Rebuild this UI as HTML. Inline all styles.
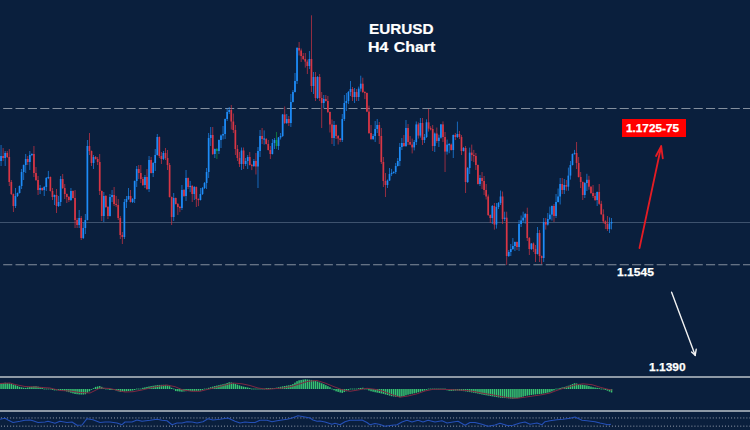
<!DOCTYPE html>
<html><head><meta charset="utf-8">
<style>
html,body{margin:0;padding:0;}
body{width:750px;height:430px;overflow:hidden;background:#0a1f3d;position:relative;font-family:"Liberation Sans",sans-serif;}
svg{position:absolute;left:0;top:0;}
.t{position:absolute;color:#fff;font-weight:bold;white-space:nowrap;line-height:1;}
</style></head><body>
<svg width="750" height="430" viewBox="0 0 750 430">

<g stroke="#848f9e" stroke-width="1" stroke-dasharray="9.1 3.23" fill="none">
<line x1="3.2" y1="108.5" x2="750" y2="108.5"/>
<line x1="3.2" y1="264.75" x2="750" y2="264.75"/>
</g>
<line x1="0" y1="222.5" x2="750" y2="222.5" stroke="#3e526e" stroke-width="1"/>
<g>
<rect x="0.60" y="145.0" width="0.9" height="21.0" fill="#1e8cf8" opacity="0.75"/>
<rect x="0.20" y="156.0" width="1.7" height="5.0" fill="#1e8cf8"/>
<rect x="2.66" y="148.0" width="0.9" height="13.0" fill="#d93645" opacity="0.75"/>
<rect x="2.26" y="156.0" width="1.7" height="2.0" fill="#d93645"/>
<rect x="4.71" y="151.0" width="0.9" height="15.0" fill="#1e8cf8" opacity="0.75"/>
<rect x="4.31" y="153.0" width="1.7" height="5.0" fill="#1e8cf8"/>
<rect x="6.77" y="151.0" width="0.9" height="7.0" fill="#d93645" opacity="0.75"/>
<rect x="6.37" y="153.0" width="1.7" height="4.0" fill="#d93645"/>
<rect x="8.82" y="149.0" width="0.9" height="37.0" fill="#d93645" opacity="0.75"/>
<rect x="8.42" y="157.0" width="1.7" height="25.0" fill="#d93645"/>
<rect x="10.88" y="180.0" width="0.9" height="15.0" fill="#d93645" opacity="0.75"/>
<rect x="10.48" y="182.0" width="1.7" height="12.0" fill="#d93645"/>
<rect x="12.93" y="193.5" width="0.9" height="18.5" fill="#d93645" opacity="0.75"/>
<rect x="12.53" y="194.0" width="1.7" height="12.0" fill="#d93645"/>
<rect x="14.99" y="188.0" width="0.9" height="20.0" fill="#1e8cf8" opacity="0.75"/>
<rect x="14.59" y="196.0" width="1.7" height="10.0" fill="#1e8cf8"/>
<rect x="17.04" y="192.5" width="0.9" height="4.5" fill="#1e8cf8" opacity="0.75"/>
<rect x="16.64" y="193.0" width="1.7" height="3.0" fill="#1e8cf8"/>
<rect x="19.10" y="185.5" width="0.9" height="8.0" fill="#1e8cf8" opacity="0.75"/>
<rect x="18.70" y="186.0" width="1.7" height="7.0" fill="#1e8cf8"/>
<rect x="21.16" y="169.0" width="0.9" height="20.0" fill="#1e8cf8" opacity="0.75"/>
<rect x="20.75" y="172.0" width="1.7" height="14.0" fill="#1e8cf8"/>
<rect x="23.21" y="164.5" width="0.9" height="15.5" fill="#1e8cf8" opacity="0.75"/>
<rect x="22.81" y="165.0" width="1.7" height="7.0" fill="#1e8cf8"/>
<rect x="25.27" y="154.0" width="0.9" height="19.0" fill="#1e8cf8" opacity="0.75"/>
<rect x="24.87" y="159.0" width="1.7" height="6.0" fill="#1e8cf8"/>
<rect x="27.32" y="156.0" width="0.9" height="9.0" fill="#d93645" opacity="0.75"/>
<rect x="26.92" y="159.0" width="1.7" height="3.0" fill="#d93645"/>
<rect x="29.38" y="151.0" width="0.9" height="19.0" fill="#1e8cf8" opacity="0.75"/>
<rect x="28.98" y="155.0" width="1.7" height="7.0" fill="#1e8cf8"/>
<rect x="31.43" y="153.4" width="0.9" height="2.7" fill="#1e8cf8" opacity="0.75"/>
<rect x="31.03" y="153.9" width="1.7" height="1.2" fill="#1e8cf8"/>
<rect x="33.49" y="146.0" width="0.9" height="31.0" fill="#d93645" opacity="0.75"/>
<rect x="33.09" y="154.0" width="1.7" height="19.0" fill="#d93645"/>
<rect x="35.54" y="167.0" width="0.9" height="14.0" fill="#d93645" opacity="0.75"/>
<rect x="35.14" y="173.0" width="1.7" height="7.0" fill="#d93645"/>
<rect x="37.60" y="176.0" width="0.9" height="19.0" fill="#d93645" opacity="0.75"/>
<rect x="37.20" y="180.0" width="1.7" height="10.0" fill="#d93645"/>
<rect x="39.65" y="185.0" width="0.9" height="9.0" fill="#1e8cf8" opacity="0.75"/>
<rect x="39.25" y="188.0" width="1.7" height="2.0" fill="#1e8cf8"/>
<rect x="41.71" y="187.5" width="0.9" height="3.5" fill="#d93645" opacity="0.75"/>
<rect x="41.31" y="188.0" width="1.7" height="2.0" fill="#d93645"/>
<rect x="43.77" y="186.0" width="0.9" height="10.0" fill="#1e8cf8" opacity="0.75"/>
<rect x="43.37" y="187.0" width="1.7" height="3.0" fill="#1e8cf8"/>
<rect x="45.82" y="177.0" width="0.9" height="14.0" fill="#1e8cf8" opacity="0.75"/>
<rect x="45.42" y="178.0" width="1.7" height="9.0" fill="#1e8cf8"/>
<rect x="47.88" y="170.9" width="0.9" height="8.2" fill="#1e8cf8" opacity="0.75"/>
<rect x="47.48" y="176.9" width="1.7" height="1.2" fill="#1e8cf8"/>
<rect x="49.93" y="176.5" width="0.9" height="15.0" fill="#d93645" opacity="0.75"/>
<rect x="49.53" y="177.0" width="1.7" height="14.0" fill="#d93645"/>
<rect x="51.99" y="188.0" width="0.9" height="12.0" fill="#d93645" opacity="0.75"/>
<rect x="51.59" y="191.0" width="1.7" height="6.0" fill="#d93645"/>
<rect x="54.04" y="194.5" width="0.9" height="10.5" fill="#1e8cf8" opacity="0.75"/>
<rect x="53.64" y="195.0" width="1.7" height="2.0" fill="#1e8cf8"/>
<rect x="56.10" y="189.0" width="0.9" height="24.0" fill="#d93645" opacity="0.75"/>
<rect x="55.70" y="195.0" width="1.7" height="11.0" fill="#d93645"/>
<rect x="58.15" y="196.0" width="0.9" height="11.0" fill="#1e8cf8" opacity="0.75"/>
<rect x="57.75" y="202.0" width="1.7" height="4.0" fill="#1e8cf8"/>
<rect x="60.21" y="176.0" width="0.9" height="30.0" fill="#1e8cf8" opacity="0.75"/>
<rect x="59.81" y="179.0" width="1.7" height="23.0" fill="#1e8cf8"/>
<rect x="62.26" y="174.0" width="0.9" height="15.0" fill="#d93645" opacity="0.75"/>
<rect x="61.86" y="179.0" width="1.7" height="9.0" fill="#d93645"/>
<rect x="64.32" y="184.0" width="0.9" height="15.0" fill="#d93645" opacity="0.75"/>
<rect x="63.92" y="188.0" width="1.7" height="6.0" fill="#d93645"/>
<rect x="66.38" y="193.5" width="0.9" height="9.5" fill="#d93645" opacity="0.75"/>
<rect x="65.98" y="194.0" width="1.7" height="3.0" fill="#d93645"/>
<rect x="68.43" y="196.0" width="0.9" height="6.0" fill="#d93645" opacity="0.75"/>
<rect x="68.03" y="197.0" width="1.7" height="3.0" fill="#d93645"/>
<rect x="70.49" y="188.0" width="0.9" height="13.0" fill="#1e8cf8" opacity="0.75"/>
<rect x="70.09" y="191.0" width="1.7" height="9.0" fill="#1e8cf8"/>
<rect x="72.54" y="190.5" width="0.9" height="8.0" fill="#d93645" opacity="0.75"/>
<rect x="72.14" y="191.0" width="1.7" height="7.0" fill="#d93645"/>
<rect x="74.60" y="190.0" width="0.9" height="38.0" fill="#d93645" opacity="0.75"/>
<rect x="74.20" y="198.0" width="1.7" height="22.0" fill="#d93645"/>
<rect x="76.65" y="218.0" width="0.9" height="10.0" fill="#d93645" opacity="0.75"/>
<rect x="76.25" y="220.0" width="1.7" height="5.0" fill="#d93645"/>
<rect x="78.71" y="210.0" width="0.9" height="18.0" fill="#1e8cf8" opacity="0.75"/>
<rect x="78.31" y="218.0" width="1.7" height="7.0" fill="#1e8cf8"/>
<rect x="80.76" y="216.0" width="0.9" height="24.0" fill="#d93645" opacity="0.75"/>
<rect x="80.36" y="218.0" width="1.7" height="20.0" fill="#d93645"/>
<rect x="82.82" y="222.0" width="0.9" height="17.0" fill="#1e8cf8" opacity="0.75"/>
<rect x="82.42" y="228.0" width="1.7" height="10.0" fill="#1e8cf8"/>
<rect x="84.88" y="214.0" width="0.9" height="20.0" fill="#1e8cf8" opacity="0.75"/>
<rect x="84.48" y="220.0" width="1.7" height="8.0" fill="#1e8cf8"/>
<rect x="86.93" y="140.0" width="0.9" height="80.5" fill="#1e8cf8" opacity="0.75"/>
<rect x="86.53" y="146.0" width="1.7" height="74.0" fill="#1e8cf8"/>
<rect x="88.99" y="133.0" width="0.9" height="22.0" fill="#d93645" opacity="0.75"/>
<rect x="88.59" y="146.0" width="1.7" height="5.0" fill="#d93645"/>
<rect x="91.04" y="150.5" width="0.9" height="15.5" fill="#d93645" opacity="0.75"/>
<rect x="90.64" y="151.0" width="1.7" height="12.0" fill="#d93645"/>
<rect x="93.10" y="155.0" width="0.9" height="14.0" fill="#1e8cf8" opacity="0.75"/>
<rect x="92.70" y="157.0" width="1.7" height="6.0" fill="#1e8cf8"/>
<rect x="95.15" y="156.0" width="0.9" height="3.5" fill="#d93645" opacity="0.75"/>
<rect x="94.75" y="157.0" width="1.7" height="2.0" fill="#d93645"/>
<rect x="97.21" y="157.0" width="0.9" height="8.0" fill="#d93645" opacity="0.75"/>
<rect x="96.81" y="159.0" width="1.7" height="3.0" fill="#d93645"/>
<rect x="99.26" y="154.0" width="0.9" height="41.0" fill="#d93645" opacity="0.75"/>
<rect x="98.86" y="162.0" width="1.7" height="29.0" fill="#d93645"/>
<rect x="101.32" y="190.5" width="0.9" height="30.5" fill="#d93645" opacity="0.75"/>
<rect x="100.92" y="191.0" width="1.7" height="25.0" fill="#d93645"/>
<rect x="103.37" y="192.0" width="0.9" height="30.0" fill="#1e8cf8" opacity="0.75"/>
<rect x="102.97" y="196.0" width="1.7" height="20.0" fill="#1e8cf8"/>
<rect x="105.43" y="195.0" width="0.9" height="13.0" fill="#d93645" opacity="0.75"/>
<rect x="105.03" y="196.0" width="1.7" height="11.0" fill="#d93645"/>
<rect x="107.49" y="206.0" width="0.9" height="13.0" fill="#d93645" opacity="0.75"/>
<rect x="107.09" y="207.0" width="1.7" height="9.0" fill="#d93645"/>
<rect x="109.54" y="194.0" width="0.9" height="22.5" fill="#1e8cf8" opacity="0.75"/>
<rect x="109.14" y="197.0" width="1.7" height="19.0" fill="#1e8cf8"/>
<rect x="111.60" y="190.0" width="0.9" height="12.0" fill="#1e8cf8" opacity="0.75"/>
<rect x="111.20" y="195.0" width="1.7" height="2.0" fill="#1e8cf8"/>
<rect x="113.65" y="187.0" width="0.9" height="19.0" fill="#d93645" opacity="0.75"/>
<rect x="113.25" y="195.0" width="1.7" height="9.0" fill="#d93645"/>
<rect x="115.71" y="195.9" width="0.9" height="11.2" fill="#d93645" opacity="0.75"/>
<rect x="115.31" y="203.9" width="1.7" height="1.2" fill="#d93645"/>
<rect x="117.76" y="199.0" width="0.9" height="21.0" fill="#d93645" opacity="0.75"/>
<rect x="117.36" y="205.0" width="1.7" height="13.0" fill="#d93645"/>
<rect x="119.82" y="216.0" width="0.9" height="23.0" fill="#d93645" opacity="0.75"/>
<rect x="119.42" y="218.0" width="1.7" height="17.0" fill="#d93645"/>
<rect x="121.87" y="232.0" width="0.9" height="12.0" fill="#d93645" opacity="0.75"/>
<rect x="121.47" y="235.0" width="1.7" height="2.0" fill="#d93645"/>
<rect x="123.93" y="199.0" width="0.9" height="40.0" fill="#1e8cf8" opacity="0.75"/>
<rect x="123.53" y="202.0" width="1.7" height="35.0" fill="#1e8cf8"/>
<rect x="125.99" y="196.0" width="0.9" height="12.0" fill="#1e8cf8" opacity="0.75"/>
<rect x="125.59" y="199.0" width="1.7" height="3.0" fill="#1e8cf8"/>
<rect x="128.04" y="188.0" width="0.9" height="12.0" fill="#1e8cf8" opacity="0.75"/>
<rect x="127.64" y="196.0" width="1.7" height="3.0" fill="#1e8cf8"/>
<rect x="130.10" y="190.0" width="0.9" height="12.5" fill="#d93645" opacity="0.75"/>
<rect x="129.70" y="196.0" width="1.7" height="6.0" fill="#d93645"/>
<rect x="132.15" y="198.0" width="0.9" height="5.0" fill="#1e8cf8" opacity="0.75"/>
<rect x="131.75" y="199.0" width="1.7" height="3.0" fill="#1e8cf8"/>
<rect x="134.21" y="180.5" width="0.9" height="22.5" fill="#1e8cf8" opacity="0.75"/>
<rect x="133.81" y="181.0" width="1.7" height="18.0" fill="#1e8cf8"/>
<rect x="136.26" y="166.0" width="0.9" height="21.0" fill="#1e8cf8" opacity="0.75"/>
<rect x="135.86" y="169.0" width="1.7" height="12.0" fill="#1e8cf8"/>
<rect x="138.32" y="165.0" width="0.9" height="14.0" fill="#d93645" opacity="0.75"/>
<rect x="137.92" y="169.0" width="1.7" height="4.0" fill="#d93645"/>
<rect x="140.37" y="165.0" width="0.9" height="18.0" fill="#d93645" opacity="0.75"/>
<rect x="139.97" y="173.0" width="1.7" height="6.0" fill="#d93645"/>
<rect x="142.43" y="177.0" width="0.9" height="9.0" fill="#d93645" opacity="0.75"/>
<rect x="142.03" y="179.0" width="1.7" height="6.0" fill="#d93645"/>
<rect x="144.49" y="175.0" width="0.9" height="13.0" fill="#1e8cf8" opacity="0.75"/>
<rect x="144.09" y="177.0" width="1.7" height="8.0" fill="#1e8cf8"/>
<rect x="146.54" y="169.0" width="0.9" height="21.0" fill="#d93645" opacity="0.75"/>
<rect x="146.14" y="177.0" width="1.7" height="12.0" fill="#d93645"/>
<rect x="148.60" y="156.0" width="0.9" height="36.0" fill="#1e8cf8" opacity="0.75"/>
<rect x="148.20" y="160.0" width="1.7" height="29.0" fill="#1e8cf8"/>
<rect x="150.65" y="157.0" width="0.9" height="16.5" fill="#d93645" opacity="0.75"/>
<rect x="150.25" y="160.0" width="1.7" height="13.0" fill="#d93645"/>
<rect x="152.71" y="162.0" width="0.9" height="15.0" fill="#1e8cf8" opacity="0.75"/>
<rect x="152.31" y="163.0" width="1.7" height="10.0" fill="#1e8cf8"/>
<rect x="154.76" y="149.0" width="0.9" height="22.0" fill="#1e8cf8" opacity="0.75"/>
<rect x="154.36" y="155.0" width="1.7" height="8.0" fill="#1e8cf8"/>
<rect x="156.82" y="134.0" width="0.9" height="21.5" fill="#1e8cf8" opacity="0.75"/>
<rect x="156.42" y="137.0" width="1.7" height="18.0" fill="#1e8cf8"/>
<rect x="158.87" y="136.5" width="0.9" height="21.5" fill="#d93645" opacity="0.75"/>
<rect x="158.47" y="137.0" width="1.7" height="19.0" fill="#d93645"/>
<rect x="160.93" y="152.0" width="0.9" height="12.0" fill="#d93645" opacity="0.75"/>
<rect x="160.53" y="156.0" width="1.7" height="3.0" fill="#d93645"/>
<rect x="162.98" y="151.0" width="0.9" height="9.0" fill="#1e8cf8" opacity="0.75"/>
<rect x="162.58" y="153.0" width="1.7" height="6.0" fill="#1e8cf8"/>
<rect x="165.04" y="148.0" width="0.9" height="12.0" fill="#d93645" opacity="0.75"/>
<rect x="164.64" y="153.0" width="1.7" height="5.0" fill="#d93645"/>
<rect x="167.10" y="150.0" width="0.9" height="20.0" fill="#d93645" opacity="0.75"/>
<rect x="166.70" y="158.0" width="1.7" height="7.0" fill="#d93645"/>
<rect x="169.15" y="163.0" width="0.9" height="34.5" fill="#d93645" opacity="0.75"/>
<rect x="168.75" y="165.0" width="1.7" height="32.0" fill="#d93645"/>
<rect x="171.21" y="196.5" width="0.9" height="28.5" fill="#d93645" opacity="0.75"/>
<rect x="170.81" y="197.0" width="1.7" height="20.0" fill="#d93645"/>
<rect x="173.26" y="193.0" width="0.9" height="28.0" fill="#1e8cf8" opacity="0.75"/>
<rect x="172.86" y="198.0" width="1.7" height="19.0" fill="#1e8cf8"/>
<rect x="175.32" y="197.5" width="0.9" height="7.0" fill="#d93645" opacity="0.75"/>
<rect x="174.92" y="198.0" width="1.7" height="6.0" fill="#d93645"/>
<rect x="177.37" y="203.0" width="0.9" height="12.0" fill="#d93645" opacity="0.75"/>
<rect x="176.97" y="204.0" width="1.7" height="3.0" fill="#d93645"/>
<rect x="179.43" y="205.9" width="0.9" height="6.2" fill="#d93645" opacity="0.75"/>
<rect x="179.03" y="206.9" width="1.7" height="1.2" fill="#d93645"/>
<rect x="181.48" y="185.0" width="0.9" height="25.0" fill="#1e8cf8" opacity="0.75"/>
<rect x="181.08" y="190.0" width="1.7" height="18.0" fill="#1e8cf8"/>
<rect x="183.54" y="189.0" width="0.9" height="8.0" fill="#d93645" opacity="0.75"/>
<rect x="183.14" y="190.0" width="1.7" height="6.0" fill="#d93645"/>
<rect x="185.59" y="170.0" width="0.9" height="31.0" fill="#1e8cf8" opacity="0.75"/>
<rect x="185.19" y="178.0" width="1.7" height="18.0" fill="#1e8cf8"/>
<rect x="187.65" y="177.5" width="0.9" height="11.5" fill="#d93645" opacity="0.75"/>
<rect x="187.25" y="178.0" width="1.7" height="9.0" fill="#d93645"/>
<rect x="189.71" y="180.9" width="0.9" height="11.2" fill="#1e8cf8" opacity="0.75"/>
<rect x="189.31" y="185.9" width="1.7" height="1.2" fill="#1e8cf8"/>
<rect x="191.76" y="185.0" width="0.9" height="17.0" fill="#d93645" opacity="0.75"/>
<rect x="191.36" y="186.0" width="1.7" height="8.0" fill="#d93645"/>
<rect x="193.82" y="186.0" width="0.9" height="14.0" fill="#1e8cf8" opacity="0.75"/>
<rect x="193.42" y="187.0" width="1.7" height="7.0" fill="#1e8cf8"/>
<rect x="195.87" y="186.5" width="0.9" height="20.5" fill="#d93645" opacity="0.75"/>
<rect x="195.47" y="187.0" width="1.7" height="12.0" fill="#d93645"/>
<rect x="197.93" y="198.4" width="0.9" height="7.7" fill="#d93645" opacity="0.75"/>
<rect x="197.53" y="198.9" width="1.7" height="1.2" fill="#d93645"/>
<rect x="199.98" y="188.0" width="0.9" height="12.5" fill="#1e8cf8" opacity="0.75"/>
<rect x="199.58" y="194.0" width="1.7" height="6.0" fill="#1e8cf8"/>
<rect x="202.04" y="187.0" width="0.9" height="8.0" fill="#1e8cf8" opacity="0.75"/>
<rect x="201.64" y="188.0" width="1.7" height="6.0" fill="#1e8cf8"/>
<rect x="204.09" y="182.0" width="0.9" height="7.0" fill="#1e8cf8" opacity="0.75"/>
<rect x="203.69" y="183.0" width="1.7" height="5.0" fill="#1e8cf8"/>
<rect x="206.15" y="168.0" width="0.9" height="21.0" fill="#1e8cf8" opacity="0.75"/>
<rect x="205.75" y="172.0" width="1.7" height="11.0" fill="#1e8cf8"/>
<rect x="208.21" y="133.0" width="0.9" height="45.0" fill="#1e8cf8" opacity="0.75"/>
<rect x="207.81" y="138.0" width="1.7" height="34.0" fill="#1e8cf8"/>
<rect x="210.26" y="127.0" width="0.9" height="19.0" fill="#1e8cf8" opacity="0.75"/>
<rect x="209.86" y="135.0" width="1.7" height="3.0" fill="#1e8cf8"/>
<rect x="212.32" y="127.0" width="0.9" height="28.0" fill="#d93645" opacity="0.75"/>
<rect x="211.92" y="135.0" width="1.7" height="19.0" fill="#d93645"/>
<rect x="214.37" y="148.5" width="0.9" height="9.5" fill="#1e8cf8" opacity="0.75"/>
<rect x="213.97" y="149.0" width="1.7" height="5.0" fill="#1e8cf8"/>
<rect x="216.43" y="148.0" width="0.9" height="11.0" fill="#139a3c" opacity="0.75"/>
<rect x="216.03" y="149.0" width="1.7" height="2.0" fill="#139a3c"/>
<rect x="218.48" y="139.5" width="0.9" height="14.5" fill="#1e8cf8" opacity="0.75"/>
<rect x="218.08" y="140.0" width="1.7" height="11.0" fill="#1e8cf8"/>
<rect x="220.54" y="134.5" width="0.9" height="13.5" fill="#1e8cf8" opacity="0.75"/>
<rect x="220.14" y="135.5" width="1.7" height="4.5" fill="#1e8cf8"/>
<rect x="222.59" y="126.0" width="0.9" height="13.5" fill="#1e8cf8" opacity="0.75"/>
<rect x="222.19" y="134.0" width="1.7" height="1.5" fill="#1e8cf8"/>
<rect x="224.65" y="118.5" width="0.9" height="20.5" fill="#1e8cf8" opacity="0.75"/>
<rect x="224.25" y="119.0" width="1.7" height="15.0" fill="#1e8cf8"/>
<rect x="226.71" y="108.0" width="0.9" height="13.0" fill="#1e8cf8" opacity="0.75"/>
<rect x="226.31" y="112.0" width="1.7" height="7.0" fill="#1e8cf8"/>
<rect x="228.76" y="107.0" width="0.9" height="7.0" fill="#1e8cf8" opacity="0.75"/>
<rect x="228.36" y="110.0" width="1.7" height="2.0" fill="#1e8cf8"/>
<rect x="230.82" y="105.0" width="0.9" height="24.5" fill="#d93645" opacity="0.75"/>
<rect x="230.42" y="110.0" width="1.7" height="11.5" fill="#d93645"/>
<rect x="232.87" y="113.5" width="0.9" height="19.5" fill="#d93645" opacity="0.75"/>
<rect x="232.47" y="121.5" width="1.7" height="8.5" fill="#d93645"/>
<rect x="234.93" y="125.0" width="0.9" height="30.0" fill="#d93645" opacity="0.75"/>
<rect x="234.53" y="130.0" width="1.7" height="19.0" fill="#d93645"/>
<rect x="236.98" y="145.0" width="0.9" height="16.0" fill="#d93645" opacity="0.75"/>
<rect x="236.58" y="149.0" width="1.7" height="9.0" fill="#d93645"/>
<rect x="239.04" y="152.0" width="0.9" height="15.0" fill="#d93645" opacity="0.75"/>
<rect x="238.64" y="158.0" width="1.7" height="6.0" fill="#d93645"/>
<rect x="241.09" y="147.5" width="0.9" height="22.5" fill="#1e8cf8" opacity="0.75"/>
<rect x="240.69" y="150.5" width="1.7" height="13.5" fill="#1e8cf8"/>
<rect x="243.15" y="147.5" width="0.9" height="21.5" fill="#d93645" opacity="0.75"/>
<rect x="242.75" y="150.5" width="1.7" height="13.5" fill="#d93645"/>
<rect x="245.20" y="158.0" width="0.9" height="8.0" fill="#1e8cf8" opacity="0.75"/>
<rect x="244.80" y="161.0" width="1.7" height="3.0" fill="#1e8cf8"/>
<rect x="247.26" y="155.0" width="0.9" height="14.0" fill="#1e8cf8" opacity="0.75"/>
<rect x="246.86" y="157.0" width="1.7" height="4.0" fill="#1e8cf8"/>
<rect x="249.32" y="152.0" width="0.9" height="13.5" fill="#d93645" opacity="0.75"/>
<rect x="248.92" y="157.0" width="1.7" height="8.0" fill="#d93645"/>
<rect x="251.37" y="163.9" width="0.9" height="6.2" fill="#d93645" opacity="0.75"/>
<rect x="250.97" y="164.9" width="1.7" height="1.2" fill="#d93645"/>
<rect x="253.43" y="159.0" width="0.9" height="8.0" fill="#1e8cf8" opacity="0.75"/>
<rect x="253.03" y="161.0" width="1.7" height="5.0" fill="#1e8cf8"/>
<rect x="255.48" y="153.0" width="0.9" height="21.5" fill="#d93645" opacity="0.75"/>
<rect x="255.08" y="161.0" width="1.7" height="5.5" fill="#d93645"/>
<rect x="257.54" y="147.0" width="0.9" height="41.0" fill="#1e8cf8" opacity="0.75"/>
<rect x="257.14" y="151.0" width="1.7" height="15.5" fill="#1e8cf8"/>
<rect x="259.59" y="130.0" width="0.9" height="27.0" fill="#1e8cf8" opacity="0.75"/>
<rect x="259.19" y="136.0" width="1.7" height="15.0" fill="#1e8cf8"/>
<rect x="261.65" y="128.0" width="0.9" height="16.0" fill="#d93645" opacity="0.75"/>
<rect x="261.25" y="136.0" width="1.7" height="3.0" fill="#d93645"/>
<rect x="263.70" y="130.4" width="0.9" height="14.2" fill="#1e8cf8" opacity="0.75"/>
<rect x="263.30" y="138.4" width="1.7" height="1.2" fill="#1e8cf8"/>
<rect x="265.76" y="138.0" width="0.9" height="6.5" fill="#d93645" opacity="0.75"/>
<rect x="265.36" y="139.0" width="1.7" height="5.0" fill="#d93645"/>
<rect x="267.81" y="140.0" width="0.9" height="10.5" fill="#d93645" opacity="0.75"/>
<rect x="267.41" y="144.0" width="1.7" height="6.0" fill="#d93645"/>
<rect x="269.87" y="146.0" width="0.9" height="13.0" fill="#d93645" opacity="0.75"/>
<rect x="269.47" y="150.0" width="1.7" height="4.0" fill="#d93645"/>
<rect x="271.93" y="139.0" width="0.9" height="15.5" fill="#1e8cf8" opacity="0.75"/>
<rect x="271.53" y="143.0" width="1.7" height="11.0" fill="#1e8cf8"/>
<rect x="273.98" y="138.0" width="0.9" height="11.0" fill="#1e8cf8" opacity="0.75"/>
<rect x="273.58" y="140.0" width="1.7" height="3.0" fill="#1e8cf8"/>
<rect x="276.04" y="132.0" width="0.9" height="17.0" fill="#139a3c" opacity="0.75"/>
<rect x="275.64" y="140.0" width="1.7" height="6.0" fill="#139a3c"/>
<rect x="278.09" y="137.0" width="0.9" height="13.0" fill="#1e8cf8" opacity="0.75"/>
<rect x="277.69" y="137.5" width="1.7" height="8.5" fill="#1e8cf8"/>
<rect x="280.15" y="133.0" width="0.9" height="6.5" fill="#1e8cf8" opacity="0.75"/>
<rect x="279.75" y="136.0" width="1.7" height="1.5" fill="#1e8cf8"/>
<rect x="282.20" y="114.0" width="0.9" height="23.0" fill="#1e8cf8" opacity="0.75"/>
<rect x="281.80" y="114.5" width="1.7" height="21.5" fill="#1e8cf8"/>
<rect x="284.26" y="106.5" width="0.9" height="17.5" fill="#d93645" opacity="0.75"/>
<rect x="283.86" y="114.5" width="1.7" height="8.5" fill="#d93645"/>
<rect x="286.31" y="114.0" width="0.9" height="10.0" fill="#1e8cf8" opacity="0.75"/>
<rect x="285.91" y="119.0" width="1.7" height="4.0" fill="#1e8cf8"/>
<rect x="288.37" y="116.0" width="0.9" height="10.0" fill="#d93645" opacity="0.75"/>
<rect x="287.97" y="119.0" width="1.7" height="4.0" fill="#d93645"/>
<rect x="290.43" y="94.0" width="0.9" height="33.0" fill="#1e8cf8" opacity="0.75"/>
<rect x="290.03" y="102.0" width="1.7" height="21.0" fill="#1e8cf8"/>
<rect x="292.48" y="90.0" width="0.9" height="12.5" fill="#1e8cf8" opacity="0.75"/>
<rect x="292.08" y="92.0" width="1.7" height="10.0" fill="#1e8cf8"/>
<rect x="294.54" y="73.0" width="0.9" height="19.5" fill="#1e8cf8" opacity="0.75"/>
<rect x="294.14" y="81.0" width="1.7" height="11.0" fill="#1e8cf8"/>
<rect x="296.59" y="47.0" width="0.9" height="37.0" fill="#1e8cf8" opacity="0.75"/>
<rect x="296.19" y="48.0" width="1.7" height="33.0" fill="#1e8cf8"/>
<rect x="298.65" y="42.0" width="0.9" height="13.5" fill="#d93645" opacity="0.75"/>
<rect x="298.25" y="48.0" width="1.7" height="2.5" fill="#d93645"/>
<rect x="300.70" y="48.5" width="0.9" height="13.5" fill="#d93645" opacity="0.75"/>
<rect x="300.30" y="50.5" width="1.7" height="5.5" fill="#d93645"/>
<rect x="302.76" y="53.0" width="0.9" height="7.0" fill="#d93645" opacity="0.75"/>
<rect x="302.36" y="56.0" width="1.7" height="3.0" fill="#d93645"/>
<rect x="304.81" y="53.0" width="0.9" height="14.6" fill="#d93645" opacity="0.75"/>
<rect x="304.41" y="59.0" width="1.7" height="2.6" fill="#d93645"/>
<rect x="306.87" y="59.6" width="0.9" height="14.4" fill="#d93645" opacity="0.75"/>
<rect x="306.47" y="61.6" width="1.7" height="4.4" fill="#d93645"/>
<rect x="308.93" y="51.0" width="0.9" height="18.0" fill="#1e8cf8" opacity="0.75"/>
<rect x="308.52" y="59.0" width="1.7" height="7.0" fill="#1e8cf8"/>
<rect x="310.98" y="15.3" width="0.9" height="76.7" fill="#d93645" opacity="0.75"/>
<rect x="310.58" y="59.0" width="1.7" height="27.0" fill="#d93645"/>
<rect x="313.04" y="72.0" width="0.9" height="22.0" fill="#1e8cf8" opacity="0.75"/>
<rect x="312.64" y="77.0" width="1.7" height="9.0" fill="#1e8cf8"/>
<rect x="315.09" y="72.0" width="0.9" height="29.0" fill="#d93645" opacity="0.75"/>
<rect x="314.69" y="77.0" width="1.7" height="21.0" fill="#d93645"/>
<rect x="317.15" y="76.0" width="0.9" height="23.0" fill="#1e8cf8" opacity="0.75"/>
<rect x="316.75" y="77.0" width="1.7" height="21.0" fill="#1e8cf8"/>
<rect x="319.20" y="74.0" width="0.9" height="27.0" fill="#d93645" opacity="0.75"/>
<rect x="318.80" y="77.0" width="1.7" height="21.0" fill="#d93645"/>
<rect x="321.26" y="92.0" width="0.9" height="36.0" fill="#d93645" opacity="0.75"/>
<rect x="320.86" y="98.0" width="1.7" height="5.0" fill="#d93645"/>
<rect x="323.31" y="95.0" width="0.9" height="13.0" fill="#1e8cf8" opacity="0.75"/>
<rect x="322.91" y="99.0" width="1.7" height="4.0" fill="#1e8cf8"/>
<rect x="325.37" y="95.0" width="0.9" height="6.5" fill="#d93645" opacity="0.75"/>
<rect x="324.97" y="99.0" width="1.7" height="2.0" fill="#d93645"/>
<rect x="327.42" y="96.0" width="0.9" height="17.0" fill="#d93645" opacity="0.75"/>
<rect x="327.02" y="101.0" width="1.7" height="11.0" fill="#d93645"/>
<rect x="329.48" y="111.5" width="0.9" height="21.0" fill="#d93645" opacity="0.75"/>
<rect x="329.08" y="112.0" width="1.7" height="12.5" fill="#d93645"/>
<rect x="331.54" y="119.5" width="0.9" height="24.5" fill="#d93645" opacity="0.75"/>
<rect x="331.14" y="124.5" width="1.7" height="13.5" fill="#d93645"/>
<rect x="333.59" y="121.0" width="0.9" height="25.0" fill="#1e8cf8" opacity="0.75"/>
<rect x="333.19" y="125.0" width="1.7" height="13.0" fill="#1e8cf8"/>
<rect x="335.65" y="124.5" width="0.9" height="14.5" fill="#d93645" opacity="0.75"/>
<rect x="335.25" y="125.0" width="1.7" height="11.0" fill="#d93645"/>
<rect x="337.70" y="135.0" width="0.9" height="9.5" fill="#d93645" opacity="0.75"/>
<rect x="337.30" y="136.0" width="1.7" height="2.5" fill="#d93645"/>
<rect x="339.76" y="138.0" width="0.9" height="4.0" fill="#d93645" opacity="0.75"/>
<rect x="339.36" y="138.5" width="1.7" height="1.5" fill="#d93645"/>
<rect x="341.81" y="114.0" width="0.9" height="28.0" fill="#1e8cf8" opacity="0.75"/>
<rect x="341.41" y="119.0" width="1.7" height="21.0" fill="#1e8cf8"/>
<rect x="343.87" y="95.0" width="0.9" height="26.0" fill="#1e8cf8" opacity="0.75"/>
<rect x="343.47" y="103.0" width="1.7" height="16.0" fill="#1e8cf8"/>
<rect x="345.92" y="93.0" width="0.9" height="18.0" fill="#1e8cf8" opacity="0.75"/>
<rect x="345.52" y="101.0" width="1.7" height="2.0" fill="#1e8cf8"/>
<rect x="347.98" y="91.0" width="0.9" height="13.0" fill="#1e8cf8" opacity="0.75"/>
<rect x="347.58" y="92.0" width="1.7" height="9.0" fill="#1e8cf8"/>
<rect x="350.04" y="81.0" width="0.9" height="15.0" fill="#1e8cf8" opacity="0.75"/>
<rect x="349.63" y="89.0" width="1.7" height="3.0" fill="#1e8cf8"/>
<rect x="352.09" y="87.0" width="0.9" height="14.0" fill="#d93645" opacity="0.75"/>
<rect x="351.69" y="89.0" width="1.7" height="8.0" fill="#d93645"/>
<rect x="354.15" y="88.0" width="0.9" height="15.0" fill="#1e8cf8" opacity="0.75"/>
<rect x="353.75" y="92.0" width="1.7" height="5.0" fill="#1e8cf8"/>
<rect x="356.20" y="89.0" width="0.9" height="12.0" fill="#d93645" opacity="0.75"/>
<rect x="355.80" y="92.0" width="1.7" height="5.0" fill="#d93645"/>
<rect x="358.26" y="86.6" width="0.9" height="14.4" fill="#1e8cf8" opacity="0.75"/>
<rect x="357.86" y="88.6" width="1.7" height="8.4" fill="#1e8cf8"/>
<rect x="360.31" y="75.7" width="0.9" height="15.9" fill="#1e8cf8" opacity="0.75"/>
<rect x="359.91" y="83.7" width="1.7" height="4.9" fill="#1e8cf8"/>
<rect x="362.37" y="77.7" width="0.9" height="15.3" fill="#d93645" opacity="0.75"/>
<rect x="361.97" y="83.7" width="1.7" height="8.3" fill="#d93645"/>
<rect x="364.42" y="91.4" width="0.9" height="7.7" fill="#d93645" opacity="0.75"/>
<rect x="364.02" y="91.9" width="1.7" height="1.2" fill="#d93645"/>
<rect x="366.48" y="92.5" width="0.9" height="19.6" fill="#d93645" opacity="0.75"/>
<rect x="366.08" y="93.0" width="1.7" height="18.6" fill="#d93645"/>
<rect x="368.53" y="105.6" width="0.9" height="28.4" fill="#d93645" opacity="0.75"/>
<rect x="368.13" y="111.6" width="1.7" height="21.4" fill="#d93645"/>
<rect x="370.59" y="125.0" width="0.9" height="15.0" fill="#d93645" opacity="0.75"/>
<rect x="370.19" y="133.0" width="1.7" height="6.0" fill="#d93645"/>
<rect x="372.65" y="134.0" width="0.9" height="6.0" fill="#1e8cf8" opacity="0.75"/>
<rect x="372.25" y="136.0" width="1.7" height="3.0" fill="#1e8cf8"/>
<rect x="374.70" y="121.0" width="0.9" height="21.0" fill="#1e8cf8" opacity="0.75"/>
<rect x="374.30" y="129.0" width="1.7" height="7.0" fill="#1e8cf8"/>
<rect x="376.76" y="119.0" width="0.9" height="14.0" fill="#1e8cf8" opacity="0.75"/>
<rect x="376.36" y="125.0" width="1.7" height="4.0" fill="#1e8cf8"/>
<rect x="378.81" y="122.0" width="0.9" height="22.0" fill="#d93645" opacity="0.75"/>
<rect x="378.41" y="125.0" width="1.7" height="11.0" fill="#d93645"/>
<rect x="380.87" y="128.0" width="0.9" height="36.0" fill="#d93645" opacity="0.75"/>
<rect x="380.47" y="136.0" width="1.7" height="26.0" fill="#d93645"/>
<rect x="382.92" y="157.0" width="0.9" height="30.0" fill="#d93645" opacity="0.75"/>
<rect x="382.52" y="162.0" width="1.7" height="19.0" fill="#d93645"/>
<rect x="384.98" y="173.0" width="0.9" height="24.0" fill="#d93645" opacity="0.75"/>
<rect x="384.58" y="181.0" width="1.7" height="4.0" fill="#d93645"/>
<rect x="387.03" y="179.5" width="0.9" height="8.5" fill="#1e8cf8" opacity="0.75"/>
<rect x="386.63" y="180.5" width="1.7" height="4.5" fill="#1e8cf8"/>
<rect x="389.09" y="168.0" width="0.9" height="13.0" fill="#1e8cf8" opacity="0.75"/>
<rect x="388.69" y="174.0" width="1.7" height="6.5" fill="#1e8cf8"/>
<rect x="391.14" y="168.9" width="0.9" height="7.2" fill="#1e8cf8" opacity="0.75"/>
<rect x="390.74" y="172.9" width="1.7" height="1.2" fill="#1e8cf8"/>
<rect x="393.20" y="171.4" width="0.9" height="2.2" fill="#1e8cf8" opacity="0.75"/>
<rect x="392.80" y="171.9" width="1.7" height="1.2" fill="#1e8cf8"/>
<rect x="395.26" y="163.0" width="0.9" height="11.0" fill="#1e8cf8" opacity="0.75"/>
<rect x="394.86" y="166.0" width="1.7" height="6.0" fill="#1e8cf8"/>
<rect x="397.31" y="158.0" width="0.9" height="8.5" fill="#1e8cf8" opacity="0.75"/>
<rect x="396.91" y="161.0" width="1.7" height="5.0" fill="#1e8cf8"/>
<rect x="399.37" y="143.0" width="0.9" height="23.0" fill="#1e8cf8" opacity="0.75"/>
<rect x="398.97" y="147.0" width="1.7" height="14.0" fill="#1e8cf8"/>
<rect x="401.42" y="138.0" width="0.9" height="12.0" fill="#1e8cf8" opacity="0.75"/>
<rect x="401.02" y="143.0" width="1.7" height="4.0" fill="#1e8cf8"/>
<rect x="403.48" y="135.0" width="0.9" height="12.0" fill="#d93645" opacity="0.75"/>
<rect x="403.08" y="143.0" width="1.7" height="3.0" fill="#d93645"/>
<rect x="405.53" y="120.0" width="0.9" height="27.0" fill="#1e8cf8" opacity="0.75"/>
<rect x="405.13" y="128.0" width="1.7" height="18.0" fill="#1e8cf8"/>
<rect x="407.59" y="124.0" width="0.9" height="21.0" fill="#d93645" opacity="0.75"/>
<rect x="407.19" y="128.0" width="1.7" height="14.0" fill="#d93645"/>
<rect x="409.64" y="136.0" width="0.9" height="9.1" fill="#d93645" opacity="0.75"/>
<rect x="409.24" y="142.0" width="1.7" height="2.6" fill="#d93645"/>
<rect x="411.70" y="138.6" width="0.9" height="14.8" fill="#d93645" opacity="0.75"/>
<rect x="411.30" y="144.6" width="1.7" height="2.8" fill="#d93645"/>
<rect x="413.76" y="140.0" width="0.9" height="10.4" fill="#1e8cf8" opacity="0.75"/>
<rect x="413.36" y="142.0" width="1.7" height="5.4" fill="#1e8cf8"/>
<rect x="415.81" y="121.4" width="0.9" height="23.6" fill="#1e8cf8" opacity="0.75"/>
<rect x="415.41" y="124.4" width="1.7" height="17.6" fill="#1e8cf8"/>
<rect x="417.87" y="122.4" width="0.9" height="16.2" fill="#d93645" opacity="0.75"/>
<rect x="417.47" y="124.4" width="1.7" height="11.2" fill="#d93645"/>
<rect x="419.92" y="118.0" width="0.9" height="19.6" fill="#1e8cf8" opacity="0.75"/>
<rect x="419.52" y="123.0" width="1.7" height="12.6" fill="#1e8cf8"/>
<rect x="421.98" y="118.0" width="0.9" height="27.0" fill="#d93645" opacity="0.75"/>
<rect x="421.58" y="123.0" width="1.7" height="17.0" fill="#d93645"/>
<rect x="424.03" y="134.0" width="0.9" height="9.0" fill="#1e8cf8" opacity="0.75"/>
<rect x="423.63" y="137.0" width="1.7" height="3.0" fill="#1e8cf8"/>
<rect x="426.09" y="119.3" width="0.9" height="18.7" fill="#1e8cf8" opacity="0.75"/>
<rect x="425.69" y="122.3" width="1.7" height="14.7" fill="#1e8cf8"/>
<rect x="428.14" y="109.0" width="0.9" height="22.6" fill="#d93645" opacity="0.75"/>
<rect x="427.74" y="122.3" width="1.7" height="6.3" fill="#d93645"/>
<rect x="430.20" y="126.2" width="0.9" height="4.2" fill="#d93645" opacity="0.75"/>
<rect x="429.80" y="128.2" width="1.7" height="1.2" fill="#d93645"/>
<rect x="432.25" y="125.0" width="0.9" height="26.0" fill="#d93645" opacity="0.75"/>
<rect x="431.85" y="129.0" width="1.7" height="17.0" fill="#d93645"/>
<rect x="434.31" y="132.5" width="0.9" height="19.5" fill="#1e8cf8" opacity="0.75"/>
<rect x="433.91" y="133.5" width="1.7" height="12.5" fill="#1e8cf8"/>
<rect x="436.37" y="127.5" width="0.9" height="15.5" fill="#d93645" opacity="0.75"/>
<rect x="435.97" y="133.5" width="1.7" height="7.5" fill="#d93645"/>
<rect x="438.42" y="134.7" width="0.9" height="12.3" fill="#1e8cf8" opacity="0.75"/>
<rect x="438.02" y="137.7" width="1.7" height="3.3" fill="#1e8cf8"/>
<rect x="440.48" y="123.9" width="0.9" height="14.8" fill="#1e8cf8" opacity="0.75"/>
<rect x="440.08" y="124.4" width="1.7" height="13.3" fill="#1e8cf8"/>
<rect x="442.53" y="121.4" width="0.9" height="20.6" fill="#d93645" opacity="0.75"/>
<rect x="442.13" y="124.4" width="1.7" height="12.6" fill="#d93645"/>
<rect x="444.59" y="132.0" width="0.9" height="40.0" fill="#d93645" opacity="0.75"/>
<rect x="444.19" y="137.0" width="1.7" height="14.6" fill="#d93645"/>
<rect x="446.64" y="139.6" width="0.9" height="15.0" fill="#1e8cf8" opacity="0.75"/>
<rect x="446.24" y="144.6" width="1.7" height="7.0" fill="#1e8cf8"/>
<rect x="448.70" y="143.0" width="0.9" height="10.2" fill="#1e8cf8" opacity="0.75"/>
<rect x="448.30" y="144.0" width="1.7" height="1.2" fill="#1e8cf8"/>
<rect x="450.75" y="143.6" width="0.9" height="6.9" fill="#d93645" opacity="0.75"/>
<rect x="450.35" y="144.6" width="1.7" height="5.4" fill="#d93645"/>
<rect x="452.81" y="134.5" width="0.9" height="23.5" fill="#1e8cf8" opacity="0.75"/>
<rect x="452.41" y="135.0" width="1.7" height="15.0" fill="#1e8cf8"/>
<rect x="454.87" y="133.0" width="0.9" height="7.0" fill="#d93645" opacity="0.75"/>
<rect x="454.47" y="135.0" width="1.7" height="2.0" fill="#d93645"/>
<rect x="456.92" y="121.6" width="0.9" height="16.4" fill="#1e8cf8" opacity="0.75"/>
<rect x="456.52" y="134.0" width="1.7" height="3.0" fill="#1e8cf8"/>
<rect x="458.98" y="131.0" width="0.9" height="8.0" fill="#d93645" opacity="0.75"/>
<rect x="458.58" y="134.0" width="1.7" height="3.0" fill="#d93645"/>
<rect x="461.03" y="135.0" width="0.9" height="20.0" fill="#d93645" opacity="0.75"/>
<rect x="460.63" y="137.0" width="1.7" height="14.0" fill="#d93645"/>
<rect x="463.09" y="147.0" width="0.9" height="4.5" fill="#1e8cf8" opacity="0.75"/>
<rect x="462.69" y="148.0" width="1.7" height="3.0" fill="#1e8cf8"/>
<rect x="465.14" y="146.0" width="0.9" height="47.0" fill="#d93645" opacity="0.75"/>
<rect x="464.74" y="148.0" width="1.7" height="34.0" fill="#d93645"/>
<rect x="467.20" y="167.0" width="0.9" height="16.0" fill="#1e8cf8" opacity="0.75"/>
<rect x="466.80" y="168.0" width="1.7" height="14.0" fill="#1e8cf8"/>
<rect x="469.25" y="147.6" width="0.9" height="26.4" fill="#1e8cf8" opacity="0.75"/>
<rect x="468.85" y="152.6" width="1.7" height="15.4" fill="#1e8cf8"/>
<rect x="471.31" y="144.6" width="0.9" height="16.4" fill="#d93645" opacity="0.75"/>
<rect x="470.91" y="152.6" width="1.7" height="2.4" fill="#d93645"/>
<rect x="473.37" y="149.9" width="0.9" height="12.2" fill="#d93645" opacity="0.75"/>
<rect x="472.96" y="154.9" width="1.7" height="1.2" fill="#d93645"/>
<rect x="475.42" y="153.0" width="0.9" height="17.0" fill="#d93645" opacity="0.75"/>
<rect x="475.02" y="156.0" width="1.7" height="9.0" fill="#d93645"/>
<rect x="477.48" y="164.5" width="0.9" height="20.0" fill="#d93645" opacity="0.75"/>
<rect x="477.08" y="165.0" width="1.7" height="19.0" fill="#d93645"/>
<rect x="479.53" y="175.0" width="0.9" height="11.0" fill="#1e8cf8" opacity="0.75"/>
<rect x="479.13" y="178.0" width="1.7" height="6.0" fill="#1e8cf8"/>
<rect x="481.59" y="172.0" width="0.9" height="17.0" fill="#d93645" opacity="0.75"/>
<rect x="481.19" y="178.0" width="1.7" height="3.0" fill="#d93645"/>
<rect x="483.64" y="176.0" width="0.9" height="19.0" fill="#d93645" opacity="0.75"/>
<rect x="483.24" y="181.0" width="1.7" height="9.0" fill="#d93645"/>
<rect x="485.70" y="184.0" width="0.9" height="15.5" fill="#d93645" opacity="0.75"/>
<rect x="485.30" y="190.0" width="1.7" height="6.5" fill="#d93645"/>
<rect x="487.75" y="194.5" width="0.9" height="21.5" fill="#d93645" opacity="0.75"/>
<rect x="487.35" y="196.5" width="1.7" height="18.5" fill="#d93645"/>
<rect x="489.81" y="214.5" width="0.9" height="8.5" fill="#d93645" opacity="0.75"/>
<rect x="489.41" y="215.0" width="1.7" height="3.0" fill="#d93645"/>
<rect x="491.86" y="205.0" width="0.9" height="19.0" fill="#1e8cf8" opacity="0.75"/>
<rect x="491.46" y="206.0" width="1.7" height="12.0" fill="#1e8cf8"/>
<rect x="493.92" y="203.0" width="0.9" height="26.6" fill="#d93645" opacity="0.75"/>
<rect x="493.52" y="206.0" width="1.7" height="18.6" fill="#d93645"/>
<rect x="495.98" y="203.0" width="0.9" height="25.6" fill="#1e8cf8" opacity="0.75"/>
<rect x="495.58" y="207.0" width="1.7" height="17.6" fill="#1e8cf8"/>
<rect x="498.03" y="202.0" width="0.9" height="7.0" fill="#1e8cf8" opacity="0.75"/>
<rect x="497.63" y="203.0" width="1.7" height="4.0" fill="#1e8cf8"/>
<rect x="500.09" y="190.5" width="0.9" height="14.5" fill="#1e8cf8" opacity="0.75"/>
<rect x="499.69" y="196.5" width="1.7" height="6.5" fill="#1e8cf8"/>
<rect x="502.14" y="191.5" width="0.9" height="32.5" fill="#d93645" opacity="0.75"/>
<rect x="501.74" y="196.5" width="1.7" height="22.5" fill="#d93645"/>
<rect x="504.20" y="211.7" width="0.9" height="9.3" fill="#1e8cf8" opacity="0.75"/>
<rect x="503.80" y="217.7" width="1.7" height="1.3" fill="#1e8cf8"/>
<rect x="506.25" y="211.7" width="0.9" height="53.3" fill="#d93645" opacity="0.75"/>
<rect x="505.85" y="217.7" width="1.7" height="38.3" fill="#d93645"/>
<rect x="508.31" y="250.0" width="0.9" height="7.0" fill="#1e8cf8" opacity="0.75"/>
<rect x="507.91" y="252.0" width="1.7" height="4.0" fill="#1e8cf8"/>
<rect x="510.36" y="244.0" width="0.9" height="12.0" fill="#1e8cf8" opacity="0.75"/>
<rect x="509.96" y="249.0" width="1.7" height="3.0" fill="#1e8cf8"/>
<rect x="512.42" y="238.0" width="0.9" height="12.0" fill="#1e8cf8" opacity="0.75"/>
<rect x="512.02" y="246.0" width="1.7" height="3.0" fill="#1e8cf8"/>
<rect x="514.47" y="241.5" width="0.9" height="9.5" fill="#1e8cf8" opacity="0.75"/>
<rect x="514.07" y="242.0" width="1.7" height="4.0" fill="#1e8cf8"/>
<rect x="516.53" y="241.5" width="0.9" height="8.5" fill="#d93645" opacity="0.75"/>
<rect x="516.13" y="242.0" width="1.7" height="5.0" fill="#d93645"/>
<rect x="518.59" y="220.0" width="0.9" height="31.0" fill="#1e8cf8" opacity="0.75"/>
<rect x="518.19" y="224.0" width="1.7" height="23.0" fill="#1e8cf8"/>
<rect x="520.64" y="215.5" width="0.9" height="11.5" fill="#1e8cf8" opacity="0.75"/>
<rect x="520.24" y="220.5" width="1.7" height="3.5" fill="#1e8cf8"/>
<rect x="522.70" y="211.7" width="0.9" height="10.8" fill="#1e8cf8" opacity="0.75"/>
<rect x="522.30" y="217.7" width="1.7" height="2.8" fill="#1e8cf8"/>
<rect x="524.75" y="213.0" width="0.9" height="10.7" fill="#1e8cf8" opacity="0.75"/>
<rect x="524.35" y="214.0" width="1.7" height="3.7" fill="#1e8cf8"/>
<rect x="526.81" y="207.7" width="0.9" height="33.3" fill="#d93645" opacity="0.75"/>
<rect x="526.41" y="214.0" width="1.7" height="24.0" fill="#d93645"/>
<rect x="528.86" y="237.0" width="0.9" height="18.0" fill="#d93645" opacity="0.75"/>
<rect x="528.46" y="238.0" width="1.7" height="11.0" fill="#d93645"/>
<rect x="530.92" y="243.0" width="0.9" height="7.0" fill="#1e8cf8" opacity="0.75"/>
<rect x="530.52" y="243.5" width="1.7" height="5.5" fill="#1e8cf8"/>
<rect x="532.97" y="242.5" width="0.9" height="9.5" fill="#d93645" opacity="0.75"/>
<rect x="532.57" y="243.5" width="1.7" height="5.5" fill="#d93645"/>
<rect x="535.03" y="245.0" width="0.9" height="17.0" fill="#d93645" opacity="0.75"/>
<rect x="534.63" y="249.0" width="1.7" height="5.0" fill="#d93645"/>
<rect x="537.09" y="227.0" width="0.9" height="27.5" fill="#1e8cf8" opacity="0.75"/>
<rect x="536.69" y="233.0" width="1.7" height="21.0" fill="#1e8cf8"/>
<rect x="539.14" y="230.0" width="0.9" height="32.0" fill="#d93645" opacity="0.75"/>
<rect x="538.74" y="233.0" width="1.7" height="23.0" fill="#d93645"/>
<rect x="541.20" y="255.5" width="0.9" height="8.5" fill="#d93645" opacity="0.75"/>
<rect x="540.80" y="256.0" width="1.7" height="2.0" fill="#d93645"/>
<rect x="543.25" y="218.0" width="0.9" height="44.0" fill="#1e8cf8" opacity="0.75"/>
<rect x="542.85" y="222.0" width="1.7" height="36.0" fill="#1e8cf8"/>
<rect x="545.31" y="218.0" width="0.9" height="11.6" fill="#d93645" opacity="0.75"/>
<rect x="544.91" y="222.0" width="1.7" height="2.6" fill="#d93645"/>
<rect x="547.36" y="213.0" width="0.9" height="12.6" fill="#1e8cf8" opacity="0.75"/>
<rect x="546.96" y="219.0" width="1.7" height="5.6" fill="#1e8cf8"/>
<rect x="549.42" y="206.6" width="0.9" height="13.4" fill="#1e8cf8" opacity="0.75"/>
<rect x="549.02" y="214.6" width="1.7" height="4.4" fill="#1e8cf8"/>
<rect x="551.47" y="205.5" width="0.9" height="15.1" fill="#1e8cf8" opacity="0.75"/>
<rect x="551.07" y="206.0" width="1.7" height="8.6" fill="#1e8cf8"/>
<rect x="553.53" y="204.0" width="0.9" height="18.0" fill="#d93645" opacity="0.75"/>
<rect x="553.13" y="206.0" width="1.7" height="10.0" fill="#d93645"/>
<rect x="555.58" y="194.0" width="0.9" height="24.0" fill="#1e8cf8" opacity="0.75"/>
<rect x="555.18" y="202.0" width="1.7" height="14.0" fill="#1e8cf8"/>
<rect x="557.64" y="188.5" width="0.9" height="14.0" fill="#1e8cf8" opacity="0.75"/>
<rect x="557.24" y="196.5" width="1.7" height="5.5" fill="#1e8cf8"/>
<rect x="559.70" y="178.0" width="0.9" height="26.5" fill="#1e8cf8" opacity="0.75"/>
<rect x="559.30" y="184.0" width="1.7" height="12.5" fill="#1e8cf8"/>
<rect x="561.75" y="178.0" width="0.9" height="16.0" fill="#d93645" opacity="0.75"/>
<rect x="561.35" y="184.0" width="1.7" height="6.0" fill="#d93645"/>
<rect x="563.81" y="179.0" width="0.9" height="15.0" fill="#1e8cf8" opacity="0.75"/>
<rect x="563.41" y="185.0" width="1.7" height="5.0" fill="#1e8cf8"/>
<rect x="565.86" y="180.0" width="0.9" height="10.7" fill="#d93645" opacity="0.75"/>
<rect x="565.46" y="185.0" width="1.7" height="1.7" fill="#d93645"/>
<rect x="567.92" y="167.6" width="0.9" height="23.1" fill="#1e8cf8" opacity="0.75"/>
<rect x="567.52" y="175.6" width="1.7" height="11.1" fill="#1e8cf8"/>
<rect x="569.97" y="161.0" width="0.9" height="18.6" fill="#1e8cf8" opacity="0.75"/>
<rect x="569.57" y="165.0" width="1.7" height="10.6" fill="#1e8cf8"/>
<rect x="572.03" y="153.5" width="0.9" height="12.0" fill="#1e8cf8" opacity="0.75"/>
<rect x="571.63" y="154.0" width="1.7" height="11.0" fill="#1e8cf8"/>
<rect x="574.08" y="149.9" width="0.9" height="4.7" fill="#1e8cf8" opacity="0.75"/>
<rect x="573.68" y="152.9" width="1.7" height="1.2" fill="#1e8cf8"/>
<rect x="576.14" y="142.0" width="0.9" height="27.0" fill="#d93645" opacity="0.75"/>
<rect x="575.74" y="153.0" width="1.7" height="10.0" fill="#d93645"/>
<rect x="578.20" y="157.0" width="0.9" height="20.5" fill="#d93645" opacity="0.75"/>
<rect x="577.80" y="163.0" width="1.7" height="14.0" fill="#d93645"/>
<rect x="580.25" y="172.0" width="0.9" height="16.0" fill="#d93645" opacity="0.75"/>
<rect x="579.85" y="177.0" width="1.7" height="5.0" fill="#d93645"/>
<rect x="582.31" y="181.5" width="0.9" height="18.5" fill="#d93645" opacity="0.75"/>
<rect x="581.91" y="182.0" width="1.7" height="13.0" fill="#d93645"/>
<rect x="584.36" y="182.0" width="0.9" height="16.0" fill="#1e8cf8" opacity="0.75"/>
<rect x="583.96" y="183.0" width="1.7" height="12.0" fill="#1e8cf8"/>
<rect x="586.42" y="173.8" width="0.9" height="17.2" fill="#1e8cf8" opacity="0.75"/>
<rect x="586.02" y="179.8" width="1.7" height="3.2" fill="#1e8cf8"/>
<rect x="588.47" y="175.8" width="0.9" height="13.9" fill="#d93645" opacity="0.75"/>
<rect x="588.07" y="179.8" width="1.7" height="6.9" fill="#d93645"/>
<rect x="590.53" y="186.2" width="0.9" height="7.8" fill="#d93645" opacity="0.75"/>
<rect x="590.13" y="186.7" width="1.7" height="6.3" fill="#d93645"/>
<rect x="592.58" y="185.0" width="0.9" height="13.0" fill="#d93645" opacity="0.75"/>
<rect x="592.18" y="193.0" width="1.7" height="3.0" fill="#d93645"/>
<rect x="594.64" y="193.0" width="0.9" height="8.0" fill="#d93645" opacity="0.75"/>
<rect x="594.24" y="196.0" width="1.7" height="4.0" fill="#d93645"/>
<rect x="596.69" y="191.5" width="0.9" height="14.5" fill="#1e8cf8" opacity="0.75"/>
<rect x="596.29" y="192.0" width="1.7" height="8.0" fill="#1e8cf8"/>
<rect x="598.75" y="184.0" width="0.9" height="20.8" fill="#d93645" opacity="0.75"/>
<rect x="598.35" y="192.0" width="1.7" height="11.8" fill="#d93645"/>
<rect x="600.81" y="200.8" width="0.9" height="14.0" fill="#d93645" opacity="0.75"/>
<rect x="600.41" y="203.8" width="1.7" height="10.5" fill="#d93645"/>
<rect x="602.86" y="209.3" width="0.9" height="14.0" fill="#d93645" opacity="0.75"/>
<rect x="602.46" y="214.3" width="1.7" height="7.0" fill="#d93645"/>
<rect x="604.92" y="220.3" width="0.9" height="8.7" fill="#d93645" opacity="0.75"/>
<rect x="604.52" y="221.3" width="1.7" height="2.7" fill="#d93645"/>
<rect x="606.97" y="216.0" width="0.9" height="15.0" fill="#d93645" opacity="0.75"/>
<rect x="606.57" y="224.0" width="1.7" height="5.0" fill="#d93645"/>
<rect x="609.03" y="217.4" width="0.9" height="15.6" fill="#1e8cf8" opacity="0.75"/>
<rect x="608.63" y="223.4" width="1.7" height="5.6" fill="#1e8cf8"/>
<rect x="611.08" y="218.0" width="0.9" height="11.4" fill="#1e8cf8" opacity="0.75"/>
<rect x="610.68" y="222.0" width="1.7" height="1.4" fill="#1e8cf8"/>
</g>
<rect x="0" y="376" width="750" height="2" fill="#8e99a6"/>
<rect x="0" y="410" width="750" height="2" fill="#8e99a6"/>
<g fill="#8a93a2">
<rect x="0.95" y="417.4" width="1" height="1.1"/><rect x="0.95" y="425.6" width="1" height="1.1"/><rect x="4.00" y="417.4" width="1" height="1.1"/><rect x="4.00" y="425.6" width="1" height="1.1"/><rect x="7.06" y="417.4" width="1" height="1.1"/><rect x="7.06" y="425.6" width="1" height="1.1"/><rect x="10.12" y="417.4" width="1" height="1.1"/><rect x="10.12" y="425.6" width="1" height="1.1"/><rect x="13.17" y="417.4" width="1" height="1.1"/><rect x="13.17" y="425.6" width="1" height="1.1"/><rect x="16.23" y="417.4" width="1" height="1.1"/><rect x="16.23" y="425.6" width="1" height="1.1"/><rect x="19.28" y="417.4" width="1" height="1.1"/><rect x="19.28" y="425.6" width="1" height="1.1"/><rect x="22.34" y="417.4" width="1" height="1.1"/><rect x="22.34" y="425.6" width="1" height="1.1"/><rect x="25.39" y="417.4" width="1" height="1.1"/><rect x="25.39" y="425.6" width="1" height="1.1"/><rect x="28.45" y="417.4" width="1" height="1.1"/><rect x="28.45" y="425.6" width="1" height="1.1"/><rect x="31.50" y="417.4" width="1" height="1.1"/><rect x="31.50" y="425.6" width="1" height="1.1"/><rect x="34.56" y="417.4" width="1" height="1.1"/><rect x="34.56" y="425.6" width="1" height="1.1"/><rect x="37.61" y="417.4" width="1" height="1.1"/><rect x="37.61" y="425.6" width="1" height="1.1"/><rect x="40.67" y="417.4" width="1" height="1.1"/><rect x="40.67" y="425.6" width="1" height="1.1"/><rect x="43.72" y="417.4" width="1" height="1.1"/><rect x="43.72" y="425.6" width="1" height="1.1"/><rect x="46.78" y="417.4" width="1" height="1.1"/><rect x="46.78" y="425.6" width="1" height="1.1"/><rect x="49.83" y="417.4" width="1" height="1.1"/><rect x="49.83" y="425.6" width="1" height="1.1"/><rect x="52.89" y="417.4" width="1" height="1.1"/><rect x="52.89" y="425.6" width="1" height="1.1"/><rect x="55.94" y="417.4" width="1" height="1.1"/><rect x="55.94" y="425.6" width="1" height="1.1"/><rect x="59.00" y="417.4" width="1" height="1.1"/><rect x="59.00" y="425.6" width="1" height="1.1"/><rect x="62.05" y="417.4" width="1" height="1.1"/><rect x="62.05" y="425.6" width="1" height="1.1"/><rect x="65.11" y="417.4" width="1" height="1.1"/><rect x="65.11" y="425.6" width="1" height="1.1"/><rect x="68.16" y="417.4" width="1" height="1.1"/><rect x="68.16" y="425.6" width="1" height="1.1"/><rect x="71.22" y="417.4" width="1" height="1.1"/><rect x="71.22" y="425.6" width="1" height="1.1"/><rect x="74.27" y="417.4" width="1" height="1.1"/><rect x="74.27" y="425.6" width="1" height="1.1"/><rect x="77.33" y="417.4" width="1" height="1.1"/><rect x="77.33" y="425.6" width="1" height="1.1"/><rect x="80.38" y="417.4" width="1" height="1.1"/><rect x="80.38" y="425.6" width="1" height="1.1"/><rect x="83.44" y="417.4" width="1" height="1.1"/><rect x="83.44" y="425.6" width="1" height="1.1"/><rect x="86.49" y="417.4" width="1" height="1.1"/><rect x="86.49" y="425.6" width="1" height="1.1"/><rect x="89.55" y="417.4" width="1" height="1.1"/><rect x="89.55" y="425.6" width="1" height="1.1"/><rect x="92.60" y="417.4" width="1" height="1.1"/><rect x="92.60" y="425.6" width="1" height="1.1"/><rect x="95.66" y="417.4" width="1" height="1.1"/><rect x="95.66" y="425.6" width="1" height="1.1"/><rect x="98.71" y="417.4" width="1" height="1.1"/><rect x="98.71" y="425.6" width="1" height="1.1"/><rect x="101.77" y="417.4" width="1" height="1.1"/><rect x="101.77" y="425.6" width="1" height="1.1"/><rect x="104.82" y="417.4" width="1" height="1.1"/><rect x="104.82" y="425.6" width="1" height="1.1"/><rect x="107.88" y="417.4" width="1" height="1.1"/><rect x="107.88" y="425.6" width="1" height="1.1"/><rect x="110.93" y="417.4" width="1" height="1.1"/><rect x="110.93" y="425.6" width="1" height="1.1"/><rect x="113.99" y="417.4" width="1" height="1.1"/><rect x="113.99" y="425.6" width="1" height="1.1"/><rect x="117.04" y="417.4" width="1" height="1.1"/><rect x="117.04" y="425.6" width="1" height="1.1"/><rect x="120.10" y="417.4" width="1" height="1.1"/><rect x="120.10" y="425.6" width="1" height="1.1"/><rect x="123.15" y="417.4" width="1" height="1.1"/><rect x="123.15" y="425.6" width="1" height="1.1"/><rect x="126.21" y="417.4" width="1" height="1.1"/><rect x="126.21" y="425.6" width="1" height="1.1"/><rect x="129.26" y="417.4" width="1" height="1.1"/><rect x="129.26" y="425.6" width="1" height="1.1"/><rect x="132.31" y="417.4" width="1" height="1.1"/><rect x="132.31" y="425.6" width="1" height="1.1"/><rect x="135.37" y="417.4" width="1" height="1.1"/><rect x="135.37" y="425.6" width="1" height="1.1"/><rect x="138.42" y="417.4" width="1" height="1.1"/><rect x="138.42" y="425.6" width="1" height="1.1"/><rect x="141.48" y="417.4" width="1" height="1.1"/><rect x="141.48" y="425.6" width="1" height="1.1"/><rect x="144.53" y="417.4" width="1" height="1.1"/><rect x="144.53" y="425.6" width="1" height="1.1"/><rect x="147.59" y="417.4" width="1" height="1.1"/><rect x="147.59" y="425.6" width="1" height="1.1"/><rect x="150.65" y="417.4" width="1" height="1.1"/><rect x="150.65" y="425.6" width="1" height="1.1"/><rect x="153.70" y="417.4" width="1" height="1.1"/><rect x="153.70" y="425.6" width="1" height="1.1"/><rect x="156.75" y="417.4" width="1" height="1.1"/><rect x="156.75" y="425.6" width="1" height="1.1"/><rect x="159.81" y="417.4" width="1" height="1.1"/><rect x="159.81" y="425.6" width="1" height="1.1"/><rect x="162.87" y="417.4" width="1" height="1.1"/><rect x="162.87" y="425.6" width="1" height="1.1"/><rect x="165.92" y="417.4" width="1" height="1.1"/><rect x="165.92" y="425.6" width="1" height="1.1"/><rect x="168.97" y="417.4" width="1" height="1.1"/><rect x="168.97" y="425.6" width="1" height="1.1"/><rect x="172.03" y="417.4" width="1" height="1.1"/><rect x="172.03" y="425.6" width="1" height="1.1"/><rect x="175.09" y="417.4" width="1" height="1.1"/><rect x="175.09" y="425.6" width="1" height="1.1"/><rect x="178.14" y="417.4" width="1" height="1.1"/><rect x="178.14" y="425.6" width="1" height="1.1"/><rect x="181.19" y="417.4" width="1" height="1.1"/><rect x="181.19" y="425.6" width="1" height="1.1"/><rect x="184.25" y="417.4" width="1" height="1.1"/><rect x="184.25" y="425.6" width="1" height="1.1"/><rect x="187.31" y="417.4" width="1" height="1.1"/><rect x="187.31" y="425.6" width="1" height="1.1"/><rect x="190.36" y="417.4" width="1" height="1.1"/><rect x="190.36" y="425.6" width="1" height="1.1"/><rect x="193.41" y="417.4" width="1" height="1.1"/><rect x="193.41" y="425.6" width="1" height="1.1"/><rect x="196.47" y="417.4" width="1" height="1.1"/><rect x="196.47" y="425.6" width="1" height="1.1"/><rect x="199.53" y="417.4" width="1" height="1.1"/><rect x="199.53" y="425.6" width="1" height="1.1"/><rect x="202.58" y="417.4" width="1" height="1.1"/><rect x="202.58" y="425.6" width="1" height="1.1"/><rect x="205.63" y="417.4" width="1" height="1.1"/><rect x="205.63" y="425.6" width="1" height="1.1"/><rect x="208.69" y="417.4" width="1" height="1.1"/><rect x="208.69" y="425.6" width="1" height="1.1"/><rect x="211.75" y="417.4" width="1" height="1.1"/><rect x="211.75" y="425.6" width="1" height="1.1"/><rect x="214.80" y="417.4" width="1" height="1.1"/><rect x="214.80" y="425.6" width="1" height="1.1"/><rect x="217.85" y="417.4" width="1" height="1.1"/><rect x="217.85" y="425.6" width="1" height="1.1"/><rect x="220.91" y="417.4" width="1" height="1.1"/><rect x="220.91" y="425.6" width="1" height="1.1"/><rect x="223.97" y="417.4" width="1" height="1.1"/><rect x="223.97" y="425.6" width="1" height="1.1"/><rect x="227.02" y="417.4" width="1" height="1.1"/><rect x="227.02" y="425.6" width="1" height="1.1"/><rect x="230.07" y="417.4" width="1" height="1.1"/><rect x="230.07" y="425.6" width="1" height="1.1"/><rect x="233.13" y="417.4" width="1" height="1.1"/><rect x="233.13" y="425.6" width="1" height="1.1"/><rect x="236.19" y="417.4" width="1" height="1.1"/><rect x="236.19" y="425.6" width="1" height="1.1"/><rect x="239.24" y="417.4" width="1" height="1.1"/><rect x="239.24" y="425.6" width="1" height="1.1"/><rect x="242.29" y="417.4" width="1" height="1.1"/><rect x="242.29" y="425.6" width="1" height="1.1"/><rect x="245.35" y="417.4" width="1" height="1.1"/><rect x="245.35" y="425.6" width="1" height="1.1"/><rect x="248.41" y="417.4" width="1" height="1.1"/><rect x="248.41" y="425.6" width="1" height="1.1"/><rect x="251.46" y="417.4" width="1" height="1.1"/><rect x="251.46" y="425.6" width="1" height="1.1"/><rect x="254.52" y="417.4" width="1" height="1.1"/><rect x="254.52" y="425.6" width="1" height="1.1"/><rect x="257.57" y="417.4" width="1" height="1.1"/><rect x="257.57" y="425.6" width="1" height="1.1"/><rect x="260.62" y="417.4" width="1" height="1.1"/><rect x="260.62" y="425.6" width="1" height="1.1"/><rect x="263.68" y="417.4" width="1" height="1.1"/><rect x="263.68" y="425.6" width="1" height="1.1"/><rect x="266.74" y="417.4" width="1" height="1.1"/><rect x="266.74" y="425.6" width="1" height="1.1"/><rect x="269.79" y="417.4" width="1" height="1.1"/><rect x="269.79" y="425.6" width="1" height="1.1"/><rect x="272.85" y="417.4" width="1" height="1.1"/><rect x="272.85" y="425.6" width="1" height="1.1"/><rect x="275.90" y="417.4" width="1" height="1.1"/><rect x="275.90" y="425.6" width="1" height="1.1"/><rect x="278.95" y="417.4" width="1" height="1.1"/><rect x="278.95" y="425.6" width="1" height="1.1"/><rect x="282.01" y="417.4" width="1" height="1.1"/><rect x="282.01" y="425.6" width="1" height="1.1"/><rect x="285.06" y="417.4" width="1" height="1.1"/><rect x="285.06" y="425.6" width="1" height="1.1"/><rect x="288.12" y="417.4" width="1" height="1.1"/><rect x="288.12" y="425.6" width="1" height="1.1"/><rect x="291.18" y="417.4" width="1" height="1.1"/><rect x="291.18" y="425.6" width="1" height="1.1"/><rect x="294.23" y="417.4" width="1" height="1.1"/><rect x="294.23" y="425.6" width="1" height="1.1"/><rect x="297.29" y="417.4" width="1" height="1.1"/><rect x="297.29" y="425.6" width="1" height="1.1"/><rect x="300.34" y="417.4" width="1" height="1.1"/><rect x="300.34" y="425.6" width="1" height="1.1"/><rect x="303.39" y="417.4" width="1" height="1.1"/><rect x="303.39" y="425.6" width="1" height="1.1"/><rect x="306.45" y="417.4" width="1" height="1.1"/><rect x="306.45" y="425.6" width="1" height="1.1"/><rect x="309.50" y="417.4" width="1" height="1.1"/><rect x="309.50" y="425.6" width="1" height="1.1"/><rect x="312.56" y="417.4" width="1" height="1.1"/><rect x="312.56" y="425.6" width="1" height="1.1"/><rect x="315.62" y="417.4" width="1" height="1.1"/><rect x="315.62" y="425.6" width="1" height="1.1"/><rect x="318.67" y="417.4" width="1" height="1.1"/><rect x="318.67" y="425.6" width="1" height="1.1"/><rect x="321.73" y="417.4" width="1" height="1.1"/><rect x="321.73" y="425.6" width="1" height="1.1"/><rect x="324.78" y="417.4" width="1" height="1.1"/><rect x="324.78" y="425.6" width="1" height="1.1"/><rect x="327.83" y="417.4" width="1" height="1.1"/><rect x="327.83" y="425.6" width="1" height="1.1"/><rect x="330.89" y="417.4" width="1" height="1.1"/><rect x="330.89" y="425.6" width="1" height="1.1"/><rect x="333.94" y="417.4" width="1" height="1.1"/><rect x="333.94" y="425.6" width="1" height="1.1"/><rect x="337.00" y="417.4" width="1" height="1.1"/><rect x="337.00" y="425.6" width="1" height="1.1"/><rect x="340.06" y="417.4" width="1" height="1.1"/><rect x="340.06" y="425.6" width="1" height="1.1"/><rect x="343.11" y="417.4" width="1" height="1.1"/><rect x="343.11" y="425.6" width="1" height="1.1"/><rect x="346.17" y="417.4" width="1" height="1.1"/><rect x="346.17" y="425.6" width="1" height="1.1"/><rect x="349.22" y="417.4" width="1" height="1.1"/><rect x="349.22" y="425.6" width="1" height="1.1"/><rect x="352.28" y="417.4" width="1" height="1.1"/><rect x="352.28" y="425.6" width="1" height="1.1"/><rect x="355.33" y="417.4" width="1" height="1.1"/><rect x="355.33" y="425.6" width="1" height="1.1"/><rect x="358.38" y="417.4" width="1" height="1.1"/><rect x="358.38" y="425.6" width="1" height="1.1"/><rect x="361.44" y="417.4" width="1" height="1.1"/><rect x="361.44" y="425.6" width="1" height="1.1"/><rect x="364.50" y="417.4" width="1" height="1.1"/><rect x="364.50" y="425.6" width="1" height="1.1"/><rect x="367.55" y="417.4" width="1" height="1.1"/><rect x="367.55" y="425.6" width="1" height="1.1"/><rect x="370.61" y="417.4" width="1" height="1.1"/><rect x="370.61" y="425.6" width="1" height="1.1"/><rect x="373.66" y="417.4" width="1" height="1.1"/><rect x="373.66" y="425.6" width="1" height="1.1"/><rect x="376.72" y="417.4" width="1" height="1.1"/><rect x="376.72" y="425.6" width="1" height="1.1"/><rect x="379.77" y="417.4" width="1" height="1.1"/><rect x="379.77" y="425.6" width="1" height="1.1"/><rect x="382.82" y="417.4" width="1" height="1.1"/><rect x="382.82" y="425.6" width="1" height="1.1"/><rect x="385.88" y="417.4" width="1" height="1.1"/><rect x="385.88" y="425.6" width="1" height="1.1"/><rect x="388.94" y="417.4" width="1" height="1.1"/><rect x="388.94" y="425.6" width="1" height="1.1"/><rect x="391.99" y="417.4" width="1" height="1.1"/><rect x="391.99" y="425.6" width="1" height="1.1"/><rect x="395.05" y="417.4" width="1" height="1.1"/><rect x="395.05" y="425.6" width="1" height="1.1"/><rect x="398.10" y="417.4" width="1" height="1.1"/><rect x="398.10" y="425.6" width="1" height="1.1"/><rect x="401.16" y="417.4" width="1" height="1.1"/><rect x="401.16" y="425.6" width="1" height="1.1"/><rect x="404.21" y="417.4" width="1" height="1.1"/><rect x="404.21" y="425.6" width="1" height="1.1"/><rect x="407.26" y="417.4" width="1" height="1.1"/><rect x="407.26" y="425.6" width="1" height="1.1"/><rect x="410.32" y="417.4" width="1" height="1.1"/><rect x="410.32" y="425.6" width="1" height="1.1"/><rect x="413.38" y="417.4" width="1" height="1.1"/><rect x="413.38" y="425.6" width="1" height="1.1"/><rect x="416.43" y="417.4" width="1" height="1.1"/><rect x="416.43" y="425.6" width="1" height="1.1"/><rect x="419.49" y="417.4" width="1" height="1.1"/><rect x="419.49" y="425.6" width="1" height="1.1"/><rect x="422.54" y="417.4" width="1" height="1.1"/><rect x="422.54" y="425.6" width="1" height="1.1"/><rect x="425.60" y="417.4" width="1" height="1.1"/><rect x="425.60" y="425.6" width="1" height="1.1"/><rect x="428.65" y="417.4" width="1" height="1.1"/><rect x="428.65" y="425.6" width="1" height="1.1"/><rect x="431.70" y="417.4" width="1" height="1.1"/><rect x="431.70" y="425.6" width="1" height="1.1"/><rect x="434.76" y="417.4" width="1" height="1.1"/><rect x="434.76" y="425.6" width="1" height="1.1"/><rect x="437.81" y="417.4" width="1" height="1.1"/><rect x="437.81" y="425.6" width="1" height="1.1"/><rect x="440.87" y="417.4" width="1" height="1.1"/><rect x="440.87" y="425.6" width="1" height="1.1"/><rect x="443.93" y="417.4" width="1" height="1.1"/><rect x="443.93" y="425.6" width="1" height="1.1"/><rect x="446.98" y="417.4" width="1" height="1.1"/><rect x="446.98" y="425.6" width="1" height="1.1"/><rect x="450.04" y="417.4" width="1" height="1.1"/><rect x="450.04" y="425.6" width="1" height="1.1"/><rect x="453.09" y="417.4" width="1" height="1.1"/><rect x="453.09" y="425.6" width="1" height="1.1"/><rect x="456.15" y="417.4" width="1" height="1.1"/><rect x="456.15" y="425.6" width="1" height="1.1"/><rect x="459.20" y="417.4" width="1" height="1.1"/><rect x="459.20" y="425.6" width="1" height="1.1"/><rect x="462.25" y="417.4" width="1" height="1.1"/><rect x="462.25" y="425.6" width="1" height="1.1"/><rect x="465.31" y="417.4" width="1" height="1.1"/><rect x="465.31" y="425.6" width="1" height="1.1"/><rect x="468.37" y="417.4" width="1" height="1.1"/><rect x="468.37" y="425.6" width="1" height="1.1"/><rect x="471.42" y="417.4" width="1" height="1.1"/><rect x="471.42" y="425.6" width="1" height="1.1"/><rect x="474.48" y="417.4" width="1" height="1.1"/><rect x="474.48" y="425.6" width="1" height="1.1"/><rect x="477.53" y="417.4" width="1" height="1.1"/><rect x="477.53" y="425.6" width="1" height="1.1"/><rect x="480.59" y="417.4" width="1" height="1.1"/><rect x="480.59" y="425.6" width="1" height="1.1"/><rect x="483.64" y="417.4" width="1" height="1.1"/><rect x="483.64" y="425.6" width="1" height="1.1"/><rect x="486.69" y="417.4" width="1" height="1.1"/><rect x="486.69" y="425.6" width="1" height="1.1"/><rect x="489.75" y="417.4" width="1" height="1.1"/><rect x="489.75" y="425.6" width="1" height="1.1"/><rect x="492.81" y="417.4" width="1" height="1.1"/><rect x="492.81" y="425.6" width="1" height="1.1"/><rect x="495.86" y="417.4" width="1" height="1.1"/><rect x="495.86" y="425.6" width="1" height="1.1"/><rect x="498.92" y="417.4" width="1" height="1.1"/><rect x="498.92" y="425.6" width="1" height="1.1"/><rect x="501.97" y="417.4" width="1" height="1.1"/><rect x="501.97" y="425.6" width="1" height="1.1"/><rect x="505.03" y="417.4" width="1" height="1.1"/><rect x="505.03" y="425.6" width="1" height="1.1"/><rect x="508.08" y="417.4" width="1" height="1.1"/><rect x="508.08" y="425.6" width="1" height="1.1"/><rect x="511.13" y="417.4" width="1" height="1.1"/><rect x="511.13" y="425.6" width="1" height="1.1"/><rect x="514.19" y="417.4" width="1" height="1.1"/><rect x="514.19" y="425.6" width="1" height="1.1"/><rect x="517.25" y="417.4" width="1" height="1.1"/><rect x="517.25" y="425.6" width="1" height="1.1"/><rect x="520.30" y="417.4" width="1" height="1.1"/><rect x="520.30" y="425.6" width="1" height="1.1"/><rect x="523.36" y="417.4" width="1" height="1.1"/><rect x="523.36" y="425.6" width="1" height="1.1"/><rect x="526.41" y="417.4" width="1" height="1.1"/><rect x="526.41" y="425.6" width="1" height="1.1"/><rect x="529.47" y="417.4" width="1" height="1.1"/><rect x="529.47" y="425.6" width="1" height="1.1"/><rect x="532.52" y="417.4" width="1" height="1.1"/><rect x="532.52" y="425.6" width="1" height="1.1"/><rect x="535.58" y="417.4" width="1" height="1.1"/><rect x="535.58" y="425.6" width="1" height="1.1"/><rect x="538.63" y="417.4" width="1" height="1.1"/><rect x="538.63" y="425.6" width="1" height="1.1"/><rect x="541.69" y="417.4" width="1" height="1.1"/><rect x="541.69" y="425.6" width="1" height="1.1"/><rect x="544.74" y="417.4" width="1" height="1.1"/><rect x="544.74" y="425.6" width="1" height="1.1"/><rect x="547.80" y="417.4" width="1" height="1.1"/><rect x="547.80" y="425.6" width="1" height="1.1"/><rect x="550.85" y="417.4" width="1" height="1.1"/><rect x="550.85" y="425.6" width="1" height="1.1"/><rect x="553.91" y="417.4" width="1" height="1.1"/><rect x="553.91" y="425.6" width="1" height="1.1"/><rect x="556.96" y="417.4" width="1" height="1.1"/><rect x="556.96" y="425.6" width="1" height="1.1"/><rect x="560.02" y="417.4" width="1" height="1.1"/><rect x="560.02" y="425.6" width="1" height="1.1"/><rect x="563.07" y="417.4" width="1" height="1.1"/><rect x="563.07" y="425.6" width="1" height="1.1"/><rect x="566.13" y="417.4" width="1" height="1.1"/><rect x="566.13" y="425.6" width="1" height="1.1"/><rect x="569.18" y="417.4" width="1" height="1.1"/><rect x="569.18" y="425.6" width="1" height="1.1"/><rect x="572.24" y="417.4" width="1" height="1.1"/><rect x="572.24" y="425.6" width="1" height="1.1"/><rect x="575.29" y="417.4" width="1" height="1.1"/><rect x="575.29" y="425.6" width="1" height="1.1"/><rect x="578.35" y="417.4" width="1" height="1.1"/><rect x="578.35" y="425.6" width="1" height="1.1"/><rect x="581.40" y="417.4" width="1" height="1.1"/><rect x="581.40" y="425.6" width="1" height="1.1"/><rect x="584.46" y="417.4" width="1" height="1.1"/><rect x="584.46" y="425.6" width="1" height="1.1"/><rect x="587.51" y="417.4" width="1" height="1.1"/><rect x="587.51" y="425.6" width="1" height="1.1"/><rect x="590.57" y="417.4" width="1" height="1.1"/><rect x="590.57" y="425.6" width="1" height="1.1"/><rect x="593.62" y="417.4" width="1" height="1.1"/><rect x="593.62" y="425.6" width="1" height="1.1"/><rect x="596.68" y="417.4" width="1" height="1.1"/><rect x="596.68" y="425.6" width="1" height="1.1"/><rect x="599.73" y="417.4" width="1" height="1.1"/><rect x="599.73" y="425.6" width="1" height="1.1"/><rect x="602.79" y="417.4" width="1" height="1.1"/><rect x="602.79" y="425.6" width="1" height="1.1"/><rect x="605.84" y="417.4" width="1" height="1.1"/><rect x="605.84" y="425.6" width="1" height="1.1"/><rect x="608.90" y="417.4" width="1" height="1.1"/><rect x="608.90" y="425.6" width="1" height="1.1"/><rect x="611.95" y="417.4" width="1" height="1.1"/><rect x="611.95" y="425.6" width="1" height="1.1"/><rect x="615.01" y="417.4" width="1" height="1.1"/><rect x="615.01" y="425.6" width="1" height="1.1"/><rect x="618.06" y="417.4" width="1" height="1.1"/><rect x="618.06" y="425.6" width="1" height="1.1"/><rect x="621.12" y="417.4" width="1" height="1.1"/><rect x="621.12" y="425.6" width="1" height="1.1"/><rect x="624.17" y="417.4" width="1" height="1.1"/><rect x="624.17" y="425.6" width="1" height="1.1"/><rect x="627.23" y="417.4" width="1" height="1.1"/><rect x="627.23" y="425.6" width="1" height="1.1"/><rect x="630.28" y="417.4" width="1" height="1.1"/><rect x="630.28" y="425.6" width="1" height="1.1"/><rect x="633.34" y="417.4" width="1" height="1.1"/><rect x="633.34" y="425.6" width="1" height="1.1"/><rect x="636.39" y="417.4" width="1" height="1.1"/><rect x="636.39" y="425.6" width="1" height="1.1"/><rect x="639.45" y="417.4" width="1" height="1.1"/><rect x="639.45" y="425.6" width="1" height="1.1"/><rect x="642.50" y="417.4" width="1" height="1.1"/><rect x="642.50" y="425.6" width="1" height="1.1"/><rect x="645.56" y="417.4" width="1" height="1.1"/><rect x="645.56" y="425.6" width="1" height="1.1"/><rect x="648.61" y="417.4" width="1" height="1.1"/><rect x="648.61" y="425.6" width="1" height="1.1"/><rect x="651.67" y="417.4" width="1" height="1.1"/><rect x="651.67" y="425.6" width="1" height="1.1"/><rect x="654.72" y="417.4" width="1" height="1.1"/><rect x="654.72" y="425.6" width="1" height="1.1"/><rect x="657.78" y="417.4" width="1" height="1.1"/><rect x="657.78" y="425.6" width="1" height="1.1"/><rect x="660.83" y="417.4" width="1" height="1.1"/><rect x="660.83" y="425.6" width="1" height="1.1"/><rect x="663.89" y="417.4" width="1" height="1.1"/><rect x="663.89" y="425.6" width="1" height="1.1"/><rect x="666.94" y="417.4" width="1" height="1.1"/><rect x="666.94" y="425.6" width="1" height="1.1"/><rect x="670.00" y="417.4" width="1" height="1.1"/><rect x="670.00" y="425.6" width="1" height="1.1"/><rect x="673.05" y="417.4" width="1" height="1.1"/><rect x="673.05" y="425.6" width="1" height="1.1"/><rect x="676.11" y="417.4" width="1" height="1.1"/><rect x="676.11" y="425.6" width="1" height="1.1"/><rect x="679.16" y="417.4" width="1" height="1.1"/><rect x="679.16" y="425.6" width="1" height="1.1"/><rect x="682.22" y="417.4" width="1" height="1.1"/><rect x="682.22" y="425.6" width="1" height="1.1"/><rect x="685.27" y="417.4" width="1" height="1.1"/><rect x="685.27" y="425.6" width="1" height="1.1"/><rect x="688.33" y="417.4" width="1" height="1.1"/><rect x="688.33" y="425.6" width="1" height="1.1"/><rect x="691.38" y="417.4" width="1" height="1.1"/><rect x="691.38" y="425.6" width="1" height="1.1"/><rect x="694.44" y="417.4" width="1" height="1.1"/><rect x="694.44" y="425.6" width="1" height="1.1"/><rect x="697.49" y="417.4" width="1" height="1.1"/><rect x="697.49" y="425.6" width="1" height="1.1"/><rect x="700.55" y="417.4" width="1" height="1.1"/><rect x="700.55" y="425.6" width="1" height="1.1"/><rect x="703.60" y="417.4" width="1" height="1.1"/><rect x="703.60" y="425.6" width="1" height="1.1"/><rect x="706.66" y="417.4" width="1" height="1.1"/><rect x="706.66" y="425.6" width="1" height="1.1"/><rect x="709.71" y="417.4" width="1" height="1.1"/><rect x="709.71" y="425.6" width="1" height="1.1"/><rect x="712.77" y="417.4" width="1" height="1.1"/><rect x="712.77" y="425.6" width="1" height="1.1"/><rect x="715.82" y="417.4" width="1" height="1.1"/><rect x="715.82" y="425.6" width="1" height="1.1"/><rect x="718.88" y="417.4" width="1" height="1.1"/><rect x="718.88" y="425.6" width="1" height="1.1"/><rect x="721.93" y="417.4" width="1" height="1.1"/><rect x="721.93" y="425.6" width="1" height="1.1"/><rect x="724.99" y="417.4" width="1" height="1.1"/><rect x="724.99" y="425.6" width="1" height="1.1"/><rect x="728.04" y="417.4" width="1" height="1.1"/><rect x="728.04" y="425.6" width="1" height="1.1"/><rect x="731.10" y="417.4" width="1" height="1.1"/><rect x="731.10" y="425.6" width="1" height="1.1"/><rect x="734.15" y="417.4" width="1" height="1.1"/><rect x="734.15" y="425.6" width="1" height="1.1"/><rect x="737.21" y="417.4" width="1" height="1.1"/><rect x="737.21" y="425.6" width="1" height="1.1"/><rect x="740.26" y="417.4" width="1" height="1.1"/><rect x="740.26" y="425.6" width="1" height="1.1"/><rect x="743.32" y="417.4" width="1" height="1.1"/><rect x="743.32" y="425.6" width="1" height="1.1"/><rect x="746.37" y="417.4" width="1" height="1.1"/><rect x="746.37" y="425.6" width="1" height="1.1"/><rect x="749.43" y="417.4" width="1" height="1.1"/><rect x="749.43" y="425.6" width="1" height="1.1"/>
</g>
<g fill="#38c472">
<rect x="0.30" y="383.33" width="1.5" height="5.67"/>
<rect x="2.36" y="383.00" width="1.5" height="6.00"/>
<rect x="4.41" y="382.73" width="1.5" height="6.27"/>
<rect x="6.47" y="383.05" width="1.5" height="5.95"/>
<rect x="8.52" y="383.38" width="1.5" height="5.62"/>
<rect x="10.58" y="383.90" width="1.5" height="5.10"/>
<rect x="12.63" y="384.51" width="1.5" height="4.49"/>
<rect x="14.69" y="385.18" width="1.5" height="3.82"/>
<rect x="16.74" y="386.00" width="1.5" height="3.00"/>
<rect x="18.80" y="386.82" width="1.5" height="2.18"/>
<rect x="20.86" y="387.32" width="1.5" height="1.68"/>
<rect x="22.91" y="387.73" width="1.5" height="1.27"/>
<rect x="24.97" y="387.86" width="1.5" height="1.14"/>
<rect x="27.02" y="387.45" width="1.5" height="1.55"/>
<rect x="29.08" y="387.03" width="1.5" height="1.97"/>
<rect x="31.13" y="386.62" width="1.5" height="2.38"/>
<rect x="33.19" y="386.21" width="1.5" height="2.79"/>
<rect x="35.24" y="386.20" width="1.5" height="2.80"/>
<rect x="37.30" y="386.61" width="1.5" height="2.39"/>
<rect x="39.35" y="387.04" width="1.5" height="1.96"/>
<rect x="41.41" y="387.86" width="1.5" height="1.14"/>
<rect x="43.47" y="388.60" width="1.5" height="0.80"/>
<rect x="45.52" y="388.60" width="1.5" height="0.80"/>
<rect x="47.58" y="388.60" width="1.5" height="0.80"/>
<rect x="49.63" y="388.60" width="1.5" height="0.80"/>
<rect x="51.69" y="389.00" width="1.5" height="0.99"/>
<rect x="53.74" y="389.00" width="1.5" height="1.40"/>
<rect x="55.80" y="389.00" width="1.5" height="1.35"/>
<rect x="57.85" y="389.00" width="1.5" height="1.14"/>
<rect x="59.91" y="389.00" width="1.5" height="1.13"/>
<rect x="61.96" y="389.00" width="1.5" height="1.54"/>
<rect x="64.02" y="389.00" width="1.5" height="1.95"/>
<rect x="66.08" y="389.00" width="1.5" height="2.55"/>
<rect x="68.13" y="389.00" width="1.5" height="3.16"/>
<rect x="70.19" y="389.00" width="1.5" height="3.78"/>
<rect x="72.24" y="389.00" width="1.5" height="4.40"/>
<rect x="74.30" y="389.00" width="1.5" height="5.00"/>
<rect x="76.35" y="389.00" width="1.5" height="5.21"/>
<rect x="78.41" y="389.00" width="1.5" height="5.42"/>
<rect x="80.46" y="389.00" width="1.5" height="5.50"/>
<rect x="82.52" y="389.00" width="1.5" height="5.50"/>
<rect x="84.58" y="389.00" width="1.5" height="5.27"/>
<rect x="86.63" y="389.00" width="1.5" height="3.83"/>
<rect x="88.69" y="389.00" width="1.5" height="2.39"/>
<rect x="90.74" y="389.00" width="1.5" height="0.81"/>
<rect x="92.80" y="388.16" width="1.5" height="0.84"/>
<rect x="94.85" y="386.88" width="1.5" height="2.12"/>
<rect x="96.91" y="386.47" width="1.5" height="2.53"/>
<rect x="98.96" y="386.06" width="1.5" height="2.94"/>
<rect x="101.02" y="386.88" width="1.5" height="2.12"/>
<rect x="103.07" y="387.91" width="1.5" height="1.09"/>
<rect x="105.13" y="388.60" width="1.5" height="0.80"/>
<rect x="107.19" y="388.60" width="1.5" height="0.80"/>
<rect x="109.24" y="389.00" width="1.5" height="1.00"/>
<rect x="111.30" y="389.00" width="1.5" height="1.00"/>
<rect x="113.35" y="389.00" width="1.5" height="1.00"/>
<rect x="115.41" y="389.00" width="1.5" height="1.46"/>
<rect x="117.46" y="389.00" width="1.5" height="2.29"/>
<rect x="119.52" y="389.00" width="1.5" height="2.97"/>
<rect x="121.57" y="389.00" width="1.5" height="2.77"/>
<rect x="123.63" y="389.00" width="1.5" height="2.56"/>
<rect x="125.69" y="389.00" width="1.5" height="2.32"/>
<rect x="127.74" y="389.00" width="1.5" height="2.06"/>
<rect x="129.80" y="389.00" width="1.5" height="1.81"/>
<rect x="131.85" y="389.00" width="1.5" height="1.55"/>
<rect x="133.91" y="389.00" width="1.5" height="1.04"/>
<rect x="135.96" y="388.60" width="1.5" height="0.80"/>
<rect x="138.02" y="388.60" width="1.5" height="0.80"/>
<rect x="140.07" y="388.60" width="1.5" height="0.80"/>
<rect x="142.13" y="387.81" width="1.5" height="1.19"/>
<rect x="144.19" y="387.38" width="1.5" height="1.62"/>
<rect x="146.24" y="386.94" width="1.5" height="2.06"/>
<rect x="148.30" y="386.50" width="1.5" height="2.50"/>
<rect x="150.35" y="386.12" width="1.5" height="2.88"/>
<rect x="152.41" y="385.79" width="1.5" height="3.21"/>
<rect x="154.46" y="385.45" width="1.5" height="3.55"/>
<rect x="156.52" y="385.12" width="1.5" height="3.88"/>
<rect x="158.57" y="384.94" width="1.5" height="4.06"/>
<rect x="160.63" y="384.86" width="1.5" height="4.14"/>
<rect x="162.68" y="384.77" width="1.5" height="4.23"/>
<rect x="164.74" y="384.86" width="1.5" height="4.14"/>
<rect x="166.80" y="385.51" width="1.5" height="3.49"/>
<rect x="168.85" y="386.17" width="1.5" height="2.83"/>
<rect x="170.91" y="387.86" width="1.5" height="1.14"/>
<rect x="172.96" y="388.60" width="1.5" height="0.80"/>
<rect x="175.02" y="389.00" width="1.5" height="2.08"/>
<rect x="177.07" y="389.00" width="1.5" height="2.28"/>
<rect x="179.13" y="389.00" width="1.5" height="2.49"/>
<rect x="181.18" y="389.00" width="1.5" height="2.69"/>
<rect x="183.24" y="389.00" width="1.5" height="2.47"/>
<rect x="185.29" y="389.00" width="1.5" height="2.23"/>
<rect x="187.35" y="389.00" width="1.5" height="2.00"/>
<rect x="189.41" y="389.00" width="1.5" height="1.96"/>
<rect x="191.46" y="389.00" width="1.5" height="1.93"/>
<rect x="193.52" y="389.00" width="1.5" height="1.90"/>
<rect x="195.57" y="389.00" width="1.5" height="1.86"/>
<rect x="197.63" y="389.00" width="1.5" height="1.83"/>
<rect x="199.68" y="389.00" width="1.5" height="1.65"/>
<rect x="201.74" y="389.00" width="1.5" height="0.93"/>
<rect x="203.79" y="388.60" width="1.5" height="0.80"/>
<rect x="205.85" y="388.60" width="1.5" height="0.80"/>
<rect x="207.91" y="387.81" width="1.5" height="1.19"/>
<rect x="209.96" y="387.23" width="1.5" height="1.77"/>
<rect x="212.02" y="386.64" width="1.5" height="2.36"/>
<rect x="214.07" y="386.05" width="1.5" height="2.95"/>
<rect x="216.13" y="385.59" width="1.5" height="3.41"/>
<rect x="218.18" y="385.13" width="1.5" height="3.87"/>
<rect x="220.24" y="384.68" width="1.5" height="4.32"/>
<rect x="222.29" y="384.23" width="1.5" height="4.77"/>
<rect x="224.35" y="383.76" width="1.5" height="5.24"/>
<rect x="226.41" y="383.02" width="1.5" height="5.98"/>
<rect x="228.46" y="382.28" width="1.5" height="6.72"/>
<rect x="230.52" y="382.46" width="1.5" height="6.54"/>
<rect x="232.57" y="383.20" width="1.5" height="5.80"/>
<rect x="234.63" y="383.93" width="1.5" height="5.07"/>
<rect x="236.68" y="384.67" width="1.5" height="4.33"/>
<rect x="238.74" y="385.40" width="1.5" height="3.60"/>
<rect x="240.79" y="386.14" width="1.5" height="2.86"/>
<rect x="242.85" y="386.64" width="1.5" height="2.36"/>
<rect x="244.90" y="387.08" width="1.5" height="1.92"/>
<rect x="246.96" y="387.51" width="1.5" height="1.49"/>
<rect x="249.02" y="387.95" width="1.5" height="1.05"/>
<rect x="251.07" y="388.60" width="1.5" height="0.80"/>
<rect x="253.13" y="388.60" width="1.5" height="0.80"/>
<rect x="255.18" y="388.60" width="1.5" height="0.80"/>
<rect x="257.24" y="388.60" width="1.5" height="0.80"/>
<rect x="259.29" y="388.60" width="1.5" height="0.80"/>
<rect x="261.35" y="388.60" width="1.5" height="0.80"/>
<rect x="263.40" y="388.60" width="1.5" height="0.80"/>
<rect x="265.46" y="388.13" width="1.5" height="0.87"/>
<rect x="267.51" y="388.00" width="1.5" height="1.00"/>
<rect x="269.57" y="388.00" width="1.5" height="1.00"/>
<rect x="271.63" y="388.00" width="1.5" height="1.00"/>
<rect x="273.68" y="388.00" width="1.5" height="1.00"/>
<rect x="275.74" y="387.68" width="1.5" height="1.32"/>
<rect x="277.79" y="387.25" width="1.5" height="1.75"/>
<rect x="279.85" y="386.81" width="1.5" height="2.19"/>
<rect x="281.90" y="386.37" width="1.5" height="2.63"/>
<rect x="283.96" y="386.00" width="1.5" height="3.00"/>
<rect x="286.01" y="385.63" width="1.5" height="3.37"/>
<rect x="288.07" y="385.27" width="1.5" height="3.73"/>
<rect x="290.13" y="384.90" width="1.5" height="4.10"/>
<rect x="292.18" y="384.05" width="1.5" height="4.95"/>
<rect x="294.24" y="382.61" width="1.5" height="6.39"/>
<rect x="296.29" y="381.17" width="1.5" height="7.83"/>
<rect x="298.35" y="380.31" width="1.5" height="8.69"/>
<rect x="300.40" y="379.96" width="1.5" height="9.04"/>
<rect x="302.46" y="379.61" width="1.5" height="9.39"/>
<rect x="304.51" y="379.33" width="1.5" height="9.67"/>
<rect x="306.57" y="379.53" width="1.5" height="9.47"/>
<rect x="308.62" y="379.74" width="1.5" height="9.26"/>
<rect x="310.68" y="379.94" width="1.5" height="9.06"/>
<rect x="312.74" y="380.39" width="1.5" height="8.61"/>
<rect x="314.79" y="380.92" width="1.5" height="8.08"/>
<rect x="316.85" y="381.55" width="1.5" height="7.45"/>
<rect x="318.90" y="382.41" width="1.5" height="6.59"/>
<rect x="320.96" y="383.26" width="1.5" height="5.74"/>
<rect x="323.01" y="384.17" width="1.5" height="4.83"/>
<rect x="325.07" y="385.17" width="1.5" height="3.83"/>
<rect x="327.12" y="386.17" width="1.5" height="2.83"/>
<rect x="329.18" y="387.17" width="1.5" height="1.83"/>
<rect x="331.24" y="388.60" width="1.5" height="0.80"/>
<rect x="333.29" y="389.00" width="1.5" height="1.27"/>
<rect x="335.35" y="389.00" width="1.5" height="2.31"/>
<rect x="337.40" y="389.00" width="1.5" height="2.90"/>
<rect x="339.46" y="389.00" width="1.5" height="3.49"/>
<rect x="341.51" y="389.00" width="1.5" height="3.89"/>
<rect x="343.57" y="389.00" width="1.5" height="3.07"/>
<rect x="345.62" y="389.00" width="1.5" height="2.25"/>
<rect x="347.68" y="389.00" width="1.5" height="1.48"/>
<rect x="349.74" y="388.60" width="1.5" height="0.80"/>
<rect x="351.79" y="388.60" width="1.5" height="0.80"/>
<rect x="353.85" y="388.60" width="1.5" height="0.80"/>
<rect x="355.90" y="388.60" width="1.5" height="0.80"/>
<rect x="357.96" y="388.17" width="1.5" height="0.83"/>
<rect x="360.01" y="387.95" width="1.5" height="1.05"/>
<rect x="362.07" y="387.72" width="1.5" height="1.28"/>
<rect x="364.12" y="388.60" width="1.5" height="0.80"/>
<rect x="366.18" y="388.60" width="1.5" height="0.80"/>
<rect x="368.23" y="389.00" width="1.5" height="1.52"/>
<rect x="370.29" y="389.00" width="1.5" height="2.25"/>
<rect x="372.35" y="389.00" width="1.5" height="2.74"/>
<rect x="374.40" y="389.00" width="1.5" height="3.23"/>
<rect x="376.46" y="389.00" width="1.5" height="3.64"/>
<rect x="378.51" y="389.00" width="1.5" height="4.05"/>
<rect x="380.57" y="389.00" width="1.5" height="4.46"/>
<rect x="382.62" y="389.00" width="1.5" height="4.90"/>
<rect x="384.68" y="389.00" width="1.5" height="5.47"/>
<rect x="386.73" y="389.00" width="1.5" height="6.05"/>
<rect x="388.79" y="389.00" width="1.5" height="6.62"/>
<rect x="390.84" y="389.00" width="1.5" height="7.19"/>
<rect x="392.90" y="389.00" width="1.5" height="7.49"/>
<rect x="394.96" y="389.00" width="1.5" height="7.72"/>
<rect x="397.01" y="389.00" width="1.5" height="7.95"/>
<rect x="399.07" y="389.00" width="1.5" height="8.18"/>
<rect x="401.12" y="389.00" width="1.5" height="7.61"/>
<rect x="403.18" y="389.00" width="1.5" height="6.97"/>
<rect x="405.23" y="389.00" width="1.5" height="6.33"/>
<rect x="407.29" y="389.00" width="1.5" height="5.69"/>
<rect x="409.34" y="389.00" width="1.5" height="5.23"/>
<rect x="411.40" y="389.00" width="1.5" height="4.78"/>
<rect x="413.46" y="389.00" width="1.5" height="4.32"/>
<rect x="415.51" y="389.00" width="1.5" height="3.86"/>
<rect x="417.57" y="389.00" width="1.5" height="3.34"/>
<rect x="419.62" y="389.00" width="1.5" height="2.77"/>
<rect x="421.68" y="389.00" width="1.5" height="2.21"/>
<rect x="423.73" y="389.00" width="1.5" height="1.64"/>
<rect x="425.79" y="389.00" width="1.5" height="0.88"/>
<rect x="427.84" y="388.60" width="1.5" height="0.80"/>
<rect x="429.90" y="388.60" width="1.5" height="0.80"/>
<rect x="431.95" y="388.60" width="1.5" height="0.80"/>
<rect x="434.01" y="388.60" width="1.5" height="0.80"/>
<rect x="436.07" y="388.60" width="1.5" height="0.80"/>
<rect x="438.12" y="388.60" width="1.5" height="0.80"/>
<rect x="440.18" y="388.60" width="1.5" height="0.80"/>
<rect x="442.23" y="388.60" width="1.5" height="0.80"/>
<rect x="444.29" y="388.60" width="1.5" height="0.80"/>
<rect x="446.34" y="389.00" width="1.5" height="1.27"/>
<rect x="448.40" y="389.00" width="1.5" height="1.79"/>
<rect x="450.45" y="389.00" width="1.5" height="1.92"/>
<rect x="452.51" y="389.00" width="1.5" height="1.80"/>
<rect x="454.57" y="389.00" width="1.5" height="1.67"/>
<rect x="456.62" y="389.00" width="1.5" height="1.54"/>
<rect x="458.68" y="389.00" width="1.5" height="1.66"/>
<rect x="460.73" y="389.00" width="1.5" height="1.90"/>
<rect x="462.79" y="389.00" width="1.5" height="2.13"/>
<rect x="464.84" y="389.00" width="1.5" height="2.40"/>
<rect x="466.90" y="389.00" width="1.5" height="2.75"/>
<rect x="468.95" y="389.00" width="1.5" height="3.10"/>
<rect x="471.01" y="389.00" width="1.5" height="3.45"/>
<rect x="473.06" y="389.00" width="1.5" height="3.80"/>
<rect x="475.12" y="389.00" width="1.5" height="4.18"/>
<rect x="477.18" y="389.00" width="1.5" height="4.62"/>
<rect x="479.23" y="389.00" width="1.5" height="5.06"/>
<rect x="481.29" y="389.00" width="1.5" height="5.50"/>
<rect x="483.34" y="389.00" width="1.5" height="5.89"/>
<rect x="485.40" y="389.00" width="1.5" height="6.26"/>
<rect x="487.45" y="389.00" width="1.5" height="6.63"/>
<rect x="489.51" y="389.00" width="1.5" height="6.99"/>
<rect x="491.56" y="389.00" width="1.5" height="7.36"/>
<rect x="493.62" y="389.00" width="1.5" height="7.71"/>
<rect x="495.68" y="389.00" width="1.5" height="8.07"/>
<rect x="497.73" y="389.00" width="1.5" height="8.43"/>
<rect x="499.79" y="389.00" width="1.5" height="8.74"/>
<rect x="501.84" y="389.00" width="1.5" height="8.89"/>
<rect x="503.90" y="389.00" width="1.5" height="9.05"/>
<rect x="505.95" y="389.00" width="1.5" height="9.20"/>
<rect x="508.01" y="389.00" width="1.5" height="9.38"/>
<rect x="510.06" y="389.00" width="1.5" height="9.58"/>
<rect x="512.12" y="389.00" width="1.5" height="9.79"/>
<rect x="514.17" y="389.00" width="1.5" height="9.50"/>
<rect x="516.23" y="389.00" width="1.5" height="9.17"/>
<rect x="518.29" y="389.00" width="1.5" height="8.85"/>
<rect x="520.34" y="389.00" width="1.5" height="8.33"/>
<rect x="522.40" y="389.00" width="1.5" height="7.63"/>
<rect x="524.45" y="389.00" width="1.5" height="6.97"/>
<rect x="526.51" y="389.00" width="1.5" height="6.63"/>
<rect x="528.56" y="389.00" width="1.5" height="6.30"/>
<rect x="530.62" y="389.00" width="1.5" height="5.97"/>
<rect x="532.67" y="389.00" width="1.5" height="5.66"/>
<rect x="534.73" y="389.00" width="1.5" height="5.45"/>
<rect x="536.79" y="389.00" width="1.5" height="5.25"/>
<rect x="538.84" y="389.00" width="1.5" height="5.04"/>
<rect x="540.90" y="389.00" width="1.5" height="4.84"/>
<rect x="542.95" y="389.00" width="1.5" height="4.46"/>
<rect x="545.01" y="389.00" width="1.5" height="4.05"/>
<rect x="547.06" y="389.00" width="1.5" height="3.64"/>
<rect x="549.12" y="389.00" width="1.5" height="3.23"/>
<rect x="551.17" y="389.00" width="1.5" height="2.35"/>
<rect x="553.23" y="389.00" width="1.5" height="1.45"/>
<rect x="555.28" y="388.60" width="1.5" height="0.80"/>
<rect x="557.34" y="388.60" width="1.5" height="0.80"/>
<rect x="559.40" y="387.96" width="1.5" height="1.04"/>
<rect x="561.45" y="387.47" width="1.5" height="1.53"/>
<rect x="563.51" y="386.97" width="1.5" height="2.03"/>
<rect x="565.56" y="386.47" width="1.5" height="2.53"/>
<rect x="567.62" y="385.74" width="1.5" height="3.26"/>
<rect x="569.67" y="384.89" width="1.5" height="4.11"/>
<rect x="571.73" y="384.04" width="1.5" height="4.96"/>
<rect x="573.78" y="383.19" width="1.5" height="5.81"/>
<rect x="575.84" y="383.41" width="1.5" height="5.59"/>
<rect x="577.90" y="383.95" width="1.5" height="5.05"/>
<rect x="579.95" y="384.42" width="1.5" height="4.58"/>
<rect x="582.01" y="384.77" width="1.5" height="4.23"/>
<rect x="584.06" y="385.12" width="1.5" height="3.88"/>
<rect x="586.12" y="385.48" width="1.5" height="3.52"/>
<rect x="588.17" y="386.04" width="1.5" height="2.96"/>
<rect x="590.23" y="386.63" width="1.5" height="2.37"/>
<rect x="592.28" y="387.21" width="1.5" height="1.79"/>
<rect x="594.34" y="387.53" width="1.5" height="1.47"/>
<rect x="596.39" y="387.85" width="1.5" height="1.15"/>
<rect x="598.45" y="388.17" width="1.5" height="0.83"/>
<rect x="600.51" y="388.60" width="1.5" height="0.80"/>
<rect x="602.56" y="388.60" width="1.5" height="0.80"/>
<rect x="604.62" y="389.00" width="1.5" height="0.99"/>
<rect x="606.67" y="389.00" width="1.5" height="1.69"/>
<rect x="608.73" y="389.00" width="1.5" height="2.59"/>
<rect x="610.78" y="389.00" width="1.5" height="3.49"/>
</g>
<polyline points="0,383.5 10,383 15,384.5 25,386.5 35,387 50,388 60,390.5 70,391 80,392.5 90,393 100,388 110,388.5 120,391 125,392 133,391.7 142,390 150,388 158,386.3 167,385 175,386.7 183,390 192,391.3 200,391.3 208,389.3 217,387.2 225,385 233,383 242,383.8 250,385.5 258,388 267,389.3 283,388 292,386.3 300,383.8 308,381.3 317,380.5 325,383 333,386.3 342,389.7 350,391.3 358,390 367,388.3 375,389.3 383,391.3 392,394.7 400,397.2 408,396 417,393.8 425,391 433,389.3 442,389.3 450,389.6 458,390 467,390.5 475,391.7 483,393.3 492,394.7 500,396.3 508,397.7 517,398.3 525,397.2 533,396 542,394.7 550,393 558,390 567,387.2 575,385 583,383.8 592,384.7 600,387.2 608,389.3 612,390" fill="none" stroke="#7e2842" stroke-width="1" stroke-linejoin="round"/>
<polyline points="0,419.2 5,418.3 8,420 13,422.5 20,421.3 25,420.3 30,420 33,420.8 38,422.5 45,422 48,421.3 55,423.3 60,421.3 67,422.5 72,422 77,425.3 82,425 87,418.7 93,419.7 100,422.5 105,422 110,422 117,423 122,424.7 125,422 132,422 137,420 142,421.3 150,420.3 157,419.2 162,420.3 167,420.8 172,424.7 177,423 182,423 187,421.7 192,422 197,423 203,421.7 208,418.7 213,420 220,419.2 228,418 235,421.3 240,423 245,422 250,422.5 255,422.5 260,420.3 267,420.3 272,421.7 277,420.8 282,420 287,419.2 292,418 298,415.8 305,417 310,418 313,420 317,421.3 320,421 325,422 332,424.2 335,423.3 340,424.7 345,421.7 350,420.3 357,420.3 362,420 367,422.5 370,424.7 375,423.5 380,424.5 385,426.3 392,425.3 397,424.7 402,422 407,420.3 412,422 418,420.3 423,422 428,420.3 435,422 442,420.8 447,423 453,422 458,421.3 465,425.3 470,422.5 475,422.5 482,424.2 488,426.3 495,425 500,423.3 508,425.8 513,425.3 520,423 525,422 530,424.2 537,423 542,424.7 545,421.7 550,420.8 557,419.7 563,419.2 570,418.3 575,417 582,420.3 587,420.8 595,421.7 600,423 608,424.7 611,424.2" fill="none" stroke="#2450b8" stroke-width="1.1" stroke-linejoin="round"/>
</svg>
<svg width="750" height="430" viewBox="0 0 750 430">
<g stroke="#e51c24" stroke-width="1.8" fill="none" stroke-linecap="round" stroke-linejoin="round">
<line x1="639.5" y1="248" x2="661.2" y2="146.2"/>
<polyline points="656,156 661.2,146.2 662.8,158.3"/>
</g>
<g stroke="#f2f2f2" stroke-width="1.4" fill="none" stroke-linecap="round" stroke-linejoin="round">
<line x1="671.6" y1="292.2" x2="695.3" y2="355.5"/>
<polyline points="691.6,351.9 695.2,355.2 696.2,349.3"/>
</g>
</svg>
<div style="position:absolute;left:622px;top:119px;width:63.5px;height:18px;background:#ff0000;"></div>
<div class="t" id="lbl1" style="left:626px;top:123.2px;font-size:10.9px;transform:scaleX(1.08);transform-origin:0 0;-webkit-text-stroke:0.25px #fff;">1.1725-75</div>
<div class="t" id="title1" style="left:369.2px;top:22.3px;font-size:14.2px;transform:scaleX(1.075);transform-origin:0 0;-webkit-text-stroke:0.2px #fff;">EURUSD</div>
<div class="t" id="title2" style="left:368.1px;top:40.4px;font-size:14px;word-spacing:0.9px;transform:scaleX(1.135);transform-origin:0 0;-webkit-text-stroke:0.2px #fff;">H4 Chart</div>
<div class="t" id="lbl2" style="left:617.2px;top:266.8px;font-size:11.5px;transform:scaleX(1.05);transform-origin:0 0;-webkit-text-stroke:0.25px #fff;">1.1545</div>
<div class="t" id="lbl3" style="left:649px;top:362px;font-size:11.5px;transform:scaleX(1.04);transform-origin:0 0;-webkit-text-stroke:0.25px #fff;">1.1390</div>
</body></html>
